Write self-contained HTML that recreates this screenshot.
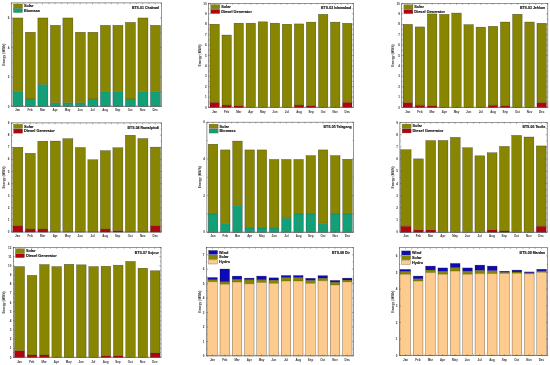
<!DOCTYPE html>
<html><head><meta charset="utf-8"><style>
html,body{margin:0;padding:0;background:#fff;}
body{width:550px;height:365px;overflow:hidden;}
svg{display:block;will-change:transform;}
text{font-family:"Liberation Sans",sans-serif;fill:#111;font-weight:bold;stroke:#111;stroke-width:0.18px;}
.yl{font-size:3.0px;text-anchor:end;stroke-width:0;fill:#333;}
.xl{font-size:2.95px;text-anchor:middle;stroke-width:0;fill:#333;}
.al{font-size:3.3px;text-anchor:middle;stroke-width:0;fill:#333;}
.tt{font-size:3.5px;text-anchor:end;stroke-width:0.12px;}
.lg{font-size:3.85px;stroke-width:0.12px;}
</style></head><body>
<svg width="550" height="365" viewBox="0 0 550 365">
<rect width="550" height="365" fill="#fff"/>
<rect x="12.85" y="91.66" width="10.01" height="14.74" fill="#13a078"/>
<rect x="12.85" y="17.96" width="10.01" height="73.7" fill="#888600"/>
<line x1="12.85" y1="91.66" x2="22.86" y2="91.66" stroke="#000" stroke-opacity="0.45" stroke-width="0.4"/>
<rect x="12.85" y="17.96" width="10.01" height="88.44" fill="none" stroke="#000" stroke-opacity="0.55" stroke-width="0.45"/>
<rect x="25.36" y="99.03" width="10.01" height="7.37" fill="#13a078"/>
<rect x="25.36" y="32.26" width="10.01" height="66.77" fill="#888600"/>
<line x1="25.36" y1="99.03" x2="35.37" y2="99.03" stroke="#000" stroke-opacity="0.45" stroke-width="0.4"/>
<rect x="25.36" y="32.26" width="10.01" height="74.14" fill="none" stroke="#000" stroke-opacity="0.55" stroke-width="0.45"/>
<rect x="37.87" y="84.29" width="10.01" height="22.11" fill="#13a078"/>
<rect x="37.87" y="17.96" width="10.01" height="66.33" fill="#888600"/>
<line x1="37.87" y1="84.29" x2="47.87" y2="84.29" stroke="#000" stroke-opacity="0.45" stroke-width="0.4"/>
<rect x="37.87" y="17.96" width="10.01" height="88.44" fill="none" stroke="#000" stroke-opacity="0.55" stroke-width="0.45"/>
<rect x="50.38" y="102.72" width="10.01" height="3.69" fill="#13a078"/>
<rect x="50.38" y="25.33" width="10.01" height="77.39" fill="#888600"/>
<line x1="50.38" y1="102.72" x2="60.38" y2="102.72" stroke="#000" stroke-opacity="0.45" stroke-width="0.4"/>
<rect x="50.38" y="25.33" width="10.01" height="81.07" fill="none" stroke="#000" stroke-opacity="0.55" stroke-width="0.45"/>
<rect x="62.88" y="102.72" width="10.01" height="3.69" fill="#13a078"/>
<rect x="62.88" y="17.96" width="10.01" height="84.75" fill="#888600"/>
<line x1="62.88" y1="102.72" x2="72.89" y2="102.72" stroke="#000" stroke-opacity="0.45" stroke-width="0.4"/>
<rect x="62.88" y="17.96" width="10.01" height="88.44" fill="none" stroke="#000" stroke-opacity="0.55" stroke-width="0.45"/>
<rect x="75.39" y="102.72" width="10.01" height="3.69" fill="#13a078"/>
<rect x="75.39" y="32.26" width="10.01" height="70.46" fill="#888600"/>
<line x1="75.39" y1="102.72" x2="85.4" y2="102.72" stroke="#000" stroke-opacity="0.45" stroke-width="0.4"/>
<rect x="75.39" y="32.26" width="10.01" height="74.14" fill="none" stroke="#000" stroke-opacity="0.55" stroke-width="0.45"/>
<rect x="87.9" y="99.03" width="10.01" height="7.37" fill="#13a078"/>
<rect x="87.9" y="32.26" width="10.01" height="66.77" fill="#888600"/>
<line x1="87.9" y1="99.03" x2="97.91" y2="99.03" stroke="#000" stroke-opacity="0.45" stroke-width="0.4"/>
<rect x="87.9" y="32.26" width="10.01" height="74.14" fill="none" stroke="#000" stroke-opacity="0.55" stroke-width="0.45"/>
<rect x="100.41" y="91.66" width="10.01" height="14.74" fill="#13a078"/>
<rect x="100.41" y="25.33" width="10.01" height="66.33" fill="#888600"/>
<line x1="100.41" y1="91.66" x2="110.42" y2="91.66" stroke="#000" stroke-opacity="0.45" stroke-width="0.4"/>
<rect x="100.41" y="25.33" width="10.01" height="81.07" fill="none" stroke="#000" stroke-opacity="0.55" stroke-width="0.45"/>
<rect x="112.92" y="91.66" width="10.01" height="14.74" fill="#13a078"/>
<rect x="112.92" y="25.33" width="10.01" height="66.33" fill="#888600"/>
<line x1="112.92" y1="91.66" x2="122.92" y2="91.66" stroke="#000" stroke-opacity="0.45" stroke-width="0.4"/>
<rect x="112.92" y="25.33" width="10.01" height="81.07" fill="none" stroke="#000" stroke-opacity="0.55" stroke-width="0.45"/>
<rect x="125.43" y="99.03" width="10.01" height="7.37" fill="#13a078"/>
<rect x="125.43" y="22.38" width="10.01" height="76.65" fill="#888600"/>
<line x1="125.43" y1="99.03" x2="135.43" y2="99.03" stroke="#000" stroke-opacity="0.45" stroke-width="0.4"/>
<rect x="125.43" y="22.38" width="10.01" height="84.02" fill="none" stroke="#000" stroke-opacity="0.55" stroke-width="0.45"/>
<rect x="137.93" y="91.66" width="10.01" height="14.74" fill="#13a078"/>
<rect x="137.93" y="17.96" width="10.01" height="73.7" fill="#888600"/>
<line x1="137.93" y1="91.66" x2="147.94" y2="91.66" stroke="#000" stroke-opacity="0.45" stroke-width="0.4"/>
<rect x="137.93" y="17.96" width="10.01" height="88.44" fill="none" stroke="#000" stroke-opacity="0.55" stroke-width="0.45"/>
<rect x="150.44" y="91.66" width="10.01" height="14.74" fill="#13a078"/>
<rect x="150.44" y="25.33" width="10.01" height="66.33" fill="#888600"/>
<line x1="150.44" y1="91.66" x2="160.45" y2="91.66" stroke="#000" stroke-opacity="0.45" stroke-width="0.4"/>
<rect x="150.44" y="25.33" width="10.01" height="81.07" fill="none" stroke="#000" stroke-opacity="0.55" stroke-width="0.45"/>
<rect x="11.3" y="2.9" width="150.1" height="103.5" fill="none" stroke="#505050" stroke-width="0.6"/>
<line x1="11.3" y1="106.4" x2="12.9" y2="106.4" stroke="#505050" stroke-width="0.45"/>
<line x1="161.4" y1="106.4" x2="159.8" y2="106.4" stroke="#505050" stroke-width="0.45"/>
<text x="9.4" y="107.5" class="yl">0</text>
<line x1="11.3" y1="91.66" x2="12.2" y2="91.66" stroke="#505050" stroke-width="0.45"/>
<line x1="161.4" y1="91.66" x2="160.5" y2="91.66" stroke="#505050" stroke-width="0.45"/>
<line x1="11.3" y1="76.92" x2="12.9" y2="76.92" stroke="#505050" stroke-width="0.45"/>
<line x1="161.4" y1="76.92" x2="159.8" y2="76.92" stroke="#505050" stroke-width="0.45"/>
<text x="9.4" y="78.02" class="yl">2</text>
<line x1="11.3" y1="62.18" x2="12.2" y2="62.18" stroke="#505050" stroke-width="0.45"/>
<line x1="161.4" y1="62.18" x2="160.5" y2="62.18" stroke="#505050" stroke-width="0.45"/>
<line x1="11.3" y1="47.44" x2="12.9" y2="47.44" stroke="#505050" stroke-width="0.45"/>
<line x1="161.4" y1="47.44" x2="159.8" y2="47.44" stroke="#505050" stroke-width="0.45"/>
<text x="9.4" y="48.54" class="yl">4</text>
<line x1="11.3" y1="32.7" x2="12.2" y2="32.7" stroke="#505050" stroke-width="0.45"/>
<line x1="161.4" y1="32.7" x2="160.5" y2="32.7" stroke="#505050" stroke-width="0.45"/>
<line x1="11.3" y1="17.96" x2="12.9" y2="17.96" stroke="#505050" stroke-width="0.45"/>
<line x1="161.4" y1="17.96" x2="159.8" y2="17.96" stroke="#505050" stroke-width="0.45"/>
<text x="9.4" y="19.06" class="yl">6</text>
<line x1="11.3" y1="3.22" x2="12.2" y2="3.22" stroke="#505050" stroke-width="0.45"/>
<line x1="161.4" y1="3.22" x2="160.5" y2="3.22" stroke="#505050" stroke-width="0.45"/>
<line x1="11.3" y1="2.9" x2="11.3" y2="4.1" stroke="#505050" stroke-width="0.45"/>
<line x1="11.3" y1="106.4" x2="11.3" y2="105.2" stroke="#505050" stroke-width="0.45"/>
<line x1="17.55" y1="2.9" x2="17.55" y2="4.3" stroke="#505050" stroke-width="0.45"/>
<line x1="17.55" y1="106.4" x2="17.55" y2="105" stroke="#505050" stroke-width="0.45"/>
<line x1="23.81" y1="2.9" x2="23.81" y2="4.1" stroke="#505050" stroke-width="0.45"/>
<line x1="23.81" y1="106.4" x2="23.81" y2="105.2" stroke="#505050" stroke-width="0.45"/>
<line x1="30.06" y1="2.9" x2="30.06" y2="4.3" stroke="#505050" stroke-width="0.45"/>
<line x1="30.06" y1="106.4" x2="30.06" y2="105" stroke="#505050" stroke-width="0.45"/>
<line x1="36.32" y1="2.9" x2="36.32" y2="4.1" stroke="#505050" stroke-width="0.45"/>
<line x1="36.32" y1="106.4" x2="36.32" y2="105.2" stroke="#505050" stroke-width="0.45"/>
<line x1="42.57" y1="2.9" x2="42.57" y2="4.3" stroke="#505050" stroke-width="0.45"/>
<line x1="42.57" y1="106.4" x2="42.57" y2="105" stroke="#505050" stroke-width="0.45"/>
<line x1="48.83" y1="2.9" x2="48.83" y2="4.1" stroke="#505050" stroke-width="0.45"/>
<line x1="48.83" y1="106.4" x2="48.83" y2="105.2" stroke="#505050" stroke-width="0.45"/>
<line x1="55.08" y1="2.9" x2="55.08" y2="4.3" stroke="#505050" stroke-width="0.45"/>
<line x1="55.08" y1="106.4" x2="55.08" y2="105" stroke="#505050" stroke-width="0.45"/>
<line x1="61.33" y1="2.9" x2="61.33" y2="4.1" stroke="#505050" stroke-width="0.45"/>
<line x1="61.33" y1="106.4" x2="61.33" y2="105.2" stroke="#505050" stroke-width="0.45"/>
<line x1="67.59" y1="2.9" x2="67.59" y2="4.3" stroke="#505050" stroke-width="0.45"/>
<line x1="67.59" y1="106.4" x2="67.59" y2="105" stroke="#505050" stroke-width="0.45"/>
<line x1="73.84" y1="2.9" x2="73.84" y2="4.1" stroke="#505050" stroke-width="0.45"/>
<line x1="73.84" y1="106.4" x2="73.84" y2="105.2" stroke="#505050" stroke-width="0.45"/>
<line x1="80.1" y1="2.9" x2="80.1" y2="4.3" stroke="#505050" stroke-width="0.45"/>
<line x1="80.1" y1="106.4" x2="80.1" y2="105" stroke="#505050" stroke-width="0.45"/>
<line x1="86.35" y1="2.9" x2="86.35" y2="4.1" stroke="#505050" stroke-width="0.45"/>
<line x1="86.35" y1="106.4" x2="86.35" y2="105.2" stroke="#505050" stroke-width="0.45"/>
<line x1="92.6" y1="2.9" x2="92.6" y2="4.3" stroke="#505050" stroke-width="0.45"/>
<line x1="92.6" y1="106.4" x2="92.6" y2="105" stroke="#505050" stroke-width="0.45"/>
<line x1="98.86" y1="2.9" x2="98.86" y2="4.1" stroke="#505050" stroke-width="0.45"/>
<line x1="98.86" y1="106.4" x2="98.86" y2="105.2" stroke="#505050" stroke-width="0.45"/>
<line x1="105.11" y1="2.9" x2="105.11" y2="4.3" stroke="#505050" stroke-width="0.45"/>
<line x1="105.11" y1="106.4" x2="105.11" y2="105" stroke="#505050" stroke-width="0.45"/>
<line x1="111.37" y1="2.9" x2="111.37" y2="4.1" stroke="#505050" stroke-width="0.45"/>
<line x1="111.37" y1="106.4" x2="111.37" y2="105.2" stroke="#505050" stroke-width="0.45"/>
<line x1="117.62" y1="2.9" x2="117.62" y2="4.3" stroke="#505050" stroke-width="0.45"/>
<line x1="117.62" y1="106.4" x2="117.62" y2="105" stroke="#505050" stroke-width="0.45"/>
<line x1="123.87" y1="2.9" x2="123.87" y2="4.1" stroke="#505050" stroke-width="0.45"/>
<line x1="123.87" y1="106.4" x2="123.87" y2="105.2" stroke="#505050" stroke-width="0.45"/>
<line x1="130.13" y1="2.9" x2="130.13" y2="4.3" stroke="#505050" stroke-width="0.45"/>
<line x1="130.13" y1="106.4" x2="130.13" y2="105" stroke="#505050" stroke-width="0.45"/>
<line x1="136.38" y1="2.9" x2="136.38" y2="4.1" stroke="#505050" stroke-width="0.45"/>
<line x1="136.38" y1="106.4" x2="136.38" y2="105.2" stroke="#505050" stroke-width="0.45"/>
<line x1="142.64" y1="2.9" x2="142.64" y2="4.3" stroke="#505050" stroke-width="0.45"/>
<line x1="142.64" y1="106.4" x2="142.64" y2="105" stroke="#505050" stroke-width="0.45"/>
<line x1="148.89" y1="2.9" x2="148.89" y2="4.1" stroke="#505050" stroke-width="0.45"/>
<line x1="148.89" y1="106.4" x2="148.89" y2="105.2" stroke="#505050" stroke-width="0.45"/>
<line x1="155.15" y1="2.9" x2="155.15" y2="4.3" stroke="#505050" stroke-width="0.45"/>
<line x1="155.15" y1="106.4" x2="155.15" y2="105" stroke="#505050" stroke-width="0.45"/>
<line x1="161.4" y1="2.9" x2="161.4" y2="4.1" stroke="#505050" stroke-width="0.45"/>
<line x1="161.4" y1="106.4" x2="161.4" y2="105.2" stroke="#505050" stroke-width="0.45"/>
<text x="17.55" y="111.4" class="xl">Jan</text>
<text x="30.06" y="111.4" class="xl">Feb</text>
<text x="42.57" y="111.4" class="xl">Mar</text>
<text x="55.08" y="111.4" class="xl">Apr</text>
<text x="67.59" y="111.4" class="xl">May</text>
<text x="80.1" y="111.4" class="xl">Jun</text>
<text x="92.6" y="111.4" class="xl">Jul</text>
<text x="105.11" y="111.4" class="xl">Aug</text>
<text x="117.62" y="111.4" class="xl">Sep</text>
<text x="130.13" y="111.4" class="xl">Oct</text>
<text x="142.64" y="111.4" class="xl">Nov</text>
<text x="155.15" y="111.4" class="xl">Dec</text>
<text transform="translate(5.45,54.65) rotate(-90)" class="al">Energy (MWh)</text>
<text x="159.2" y="8.65" class="tt">BTS-01 Chakwal</text>
<rect x="13.5" y="4" width="9" height="4.1" fill="#888600" stroke="#55502a" stroke-width="0.3"/>
<text x="23.9" y="7.3" class="lg">Solar</text>
<rect x="13.5" y="8.45" width="9" height="4.1" fill="#13a078" stroke="#55502a" stroke-width="0.3"/>
<text x="23.9" y="11.75" class="lg">Biomass</text>
<rect x="209.93" y="102.3" width="9.41" height="5.2" fill="#b0040e"/>
<rect x="209.93" y="24.22" width="9.41" height="78.08" fill="#888600"/>
<line x1="209.93" y1="102.3" x2="219.33" y2="102.3" stroke="#000" stroke-opacity="0.45" stroke-width="0.4"/>
<rect x="209.93" y="24.22" width="9.41" height="83.28" fill="none" stroke="#000" stroke-opacity="0.55" stroke-width="0.45"/>
<rect x="221.98" y="105.11" width="9.41" height="2.39" fill="#b0040e"/>
<rect x="221.98" y="35.05" width="9.41" height="70.06" fill="#888600"/>
<line x1="221.98" y1="105.11" x2="231.39" y2="105.11" stroke="#000" stroke-opacity="0.45" stroke-width="0.4"/>
<rect x="221.98" y="35.05" width="9.41" height="72.45" fill="none" stroke="#000" stroke-opacity="0.55" stroke-width="0.45"/>
<rect x="234.04" y="105.94" width="9.41" height="1.56" fill="#b0040e"/>
<rect x="234.04" y="23.18" width="9.41" height="82.76" fill="#888600"/>
<line x1="234.04" y1="105.94" x2="243.45" y2="105.94" stroke="#000" stroke-opacity="0.45" stroke-width="0.4"/>
<rect x="234.04" y="23.18" width="9.41" height="84.32" fill="none" stroke="#000" stroke-opacity="0.55" stroke-width="0.45"/>
<rect x="246.1" y="23.18" width="9.41" height="84.32" fill="#888600"/>
<rect x="246.1" y="23.18" width="9.41" height="84.32" fill="none" stroke="#000" stroke-opacity="0.55" stroke-width="0.45"/>
<rect x="258.16" y="21.83" width="9.41" height="85.67" fill="#888600"/>
<rect x="258.16" y="21.83" width="9.41" height="85.67" fill="none" stroke="#000" stroke-opacity="0.55" stroke-width="0.45"/>
<rect x="270.22" y="23.18" width="9.41" height="84.32" fill="#888600"/>
<rect x="270.22" y="23.18" width="9.41" height="84.32" fill="none" stroke="#000" stroke-opacity="0.55" stroke-width="0.45"/>
<rect x="282.28" y="24.22" width="9.41" height="83.28" fill="#888600"/>
<rect x="282.28" y="24.22" width="9.41" height="83.28" fill="none" stroke="#000" stroke-opacity="0.55" stroke-width="0.45"/>
<rect x="294.33" y="105.11" width="9.41" height="2.39" fill="#b0040e"/>
<rect x="294.33" y="23.91" width="9.41" height="81.2" fill="#888600"/>
<line x1="294.33" y1="105.11" x2="303.74" y2="105.11" stroke="#000" stroke-opacity="0.45" stroke-width="0.4"/>
<rect x="294.33" y="23.91" width="9.41" height="83.59" fill="none" stroke="#000" stroke-opacity="0.55" stroke-width="0.45"/>
<rect x="306.39" y="105.94" width="9.41" height="1.56" fill="#b0040e"/>
<rect x="306.39" y="22.14" width="9.41" height="83.8" fill="#888600"/>
<line x1="306.39" y1="105.94" x2="315.8" y2="105.94" stroke="#000" stroke-opacity="0.45" stroke-width="0.4"/>
<rect x="306.39" y="22.14" width="9.41" height="85.36" fill="none" stroke="#000" stroke-opacity="0.55" stroke-width="0.45"/>
<rect x="318.45" y="14.33" width="9.41" height="93.17" fill="#888600"/>
<rect x="318.45" y="14.33" width="9.41" height="93.17" fill="none" stroke="#000" stroke-opacity="0.55" stroke-width="0.45"/>
<rect x="330.51" y="22.14" width="9.41" height="85.36" fill="#888600"/>
<rect x="330.51" y="22.14" width="9.41" height="85.36" fill="none" stroke="#000" stroke-opacity="0.55" stroke-width="0.45"/>
<rect x="342.57" y="102.3" width="9.41" height="5.2" fill="#b0040e"/>
<rect x="342.57" y="23.28" width="9.41" height="79.01" fill="#888600"/>
<line x1="342.57" y1="102.3" x2="351.97" y2="102.3" stroke="#000" stroke-opacity="0.45" stroke-width="0.4"/>
<rect x="342.57" y="23.28" width="9.41" height="84.22" fill="none" stroke="#000" stroke-opacity="0.55" stroke-width="0.45"/>
<rect x="208.6" y="3.4" width="144.7" height="104.1" fill="none" stroke="#505050" stroke-width="0.6"/>
<line x1="208.6" y1="107.5" x2="210.2" y2="107.5" stroke="#505050" stroke-width="0.45"/>
<line x1="353.3" y1="107.5" x2="351.7" y2="107.5" stroke="#505050" stroke-width="0.45"/>
<text x="206.7" y="108.6" class="yl">0</text>
<line x1="208.6" y1="102.3" x2="209.5" y2="102.3" stroke="#505050" stroke-width="0.45"/>
<line x1="353.3" y1="102.3" x2="352.4" y2="102.3" stroke="#505050" stroke-width="0.45"/>
<line x1="208.6" y1="97.09" x2="210.2" y2="97.09" stroke="#505050" stroke-width="0.45"/>
<line x1="353.3" y1="97.09" x2="351.7" y2="97.09" stroke="#505050" stroke-width="0.45"/>
<text x="206.7" y="98.19" class="yl">1</text>
<line x1="208.6" y1="91.89" x2="209.5" y2="91.89" stroke="#505050" stroke-width="0.45"/>
<line x1="353.3" y1="91.89" x2="352.4" y2="91.89" stroke="#505050" stroke-width="0.45"/>
<line x1="208.6" y1="86.68" x2="210.2" y2="86.68" stroke="#505050" stroke-width="0.45"/>
<line x1="353.3" y1="86.68" x2="351.7" y2="86.68" stroke="#505050" stroke-width="0.45"/>
<text x="206.7" y="87.78" class="yl">2</text>
<line x1="208.6" y1="81.47" x2="209.5" y2="81.47" stroke="#505050" stroke-width="0.45"/>
<line x1="353.3" y1="81.47" x2="352.4" y2="81.47" stroke="#505050" stroke-width="0.45"/>
<line x1="208.6" y1="76.27" x2="210.2" y2="76.27" stroke="#505050" stroke-width="0.45"/>
<line x1="353.3" y1="76.27" x2="351.7" y2="76.27" stroke="#505050" stroke-width="0.45"/>
<text x="206.7" y="77.37" class="yl">3</text>
<line x1="208.6" y1="71.06" x2="209.5" y2="71.06" stroke="#505050" stroke-width="0.45"/>
<line x1="353.3" y1="71.06" x2="352.4" y2="71.06" stroke="#505050" stroke-width="0.45"/>
<line x1="208.6" y1="65.86" x2="210.2" y2="65.86" stroke="#505050" stroke-width="0.45"/>
<line x1="353.3" y1="65.86" x2="351.7" y2="65.86" stroke="#505050" stroke-width="0.45"/>
<text x="206.7" y="66.96" class="yl">4</text>
<line x1="208.6" y1="60.66" x2="209.5" y2="60.66" stroke="#505050" stroke-width="0.45"/>
<line x1="353.3" y1="60.66" x2="352.4" y2="60.66" stroke="#505050" stroke-width="0.45"/>
<line x1="208.6" y1="55.45" x2="210.2" y2="55.45" stroke="#505050" stroke-width="0.45"/>
<line x1="353.3" y1="55.45" x2="351.7" y2="55.45" stroke="#505050" stroke-width="0.45"/>
<text x="206.7" y="56.55" class="yl">5</text>
<line x1="208.6" y1="50.24" x2="209.5" y2="50.24" stroke="#505050" stroke-width="0.45"/>
<line x1="353.3" y1="50.24" x2="352.4" y2="50.24" stroke="#505050" stroke-width="0.45"/>
<line x1="208.6" y1="45.04" x2="210.2" y2="45.04" stroke="#505050" stroke-width="0.45"/>
<line x1="353.3" y1="45.04" x2="351.7" y2="45.04" stroke="#505050" stroke-width="0.45"/>
<text x="206.7" y="46.14" class="yl">6</text>
<line x1="208.6" y1="39.83" x2="209.5" y2="39.83" stroke="#505050" stroke-width="0.45"/>
<line x1="353.3" y1="39.83" x2="352.4" y2="39.83" stroke="#505050" stroke-width="0.45"/>
<line x1="208.6" y1="34.63" x2="210.2" y2="34.63" stroke="#505050" stroke-width="0.45"/>
<line x1="353.3" y1="34.63" x2="351.7" y2="34.63" stroke="#505050" stroke-width="0.45"/>
<text x="206.7" y="35.73" class="yl">7</text>
<line x1="208.6" y1="29.42" x2="209.5" y2="29.42" stroke="#505050" stroke-width="0.45"/>
<line x1="353.3" y1="29.42" x2="352.4" y2="29.42" stroke="#505050" stroke-width="0.45"/>
<line x1="208.6" y1="24.22" x2="210.2" y2="24.22" stroke="#505050" stroke-width="0.45"/>
<line x1="353.3" y1="24.22" x2="351.7" y2="24.22" stroke="#505050" stroke-width="0.45"/>
<text x="206.7" y="25.32" class="yl">8</text>
<line x1="208.6" y1="19.02" x2="209.5" y2="19.02" stroke="#505050" stroke-width="0.45"/>
<line x1="353.3" y1="19.02" x2="352.4" y2="19.02" stroke="#505050" stroke-width="0.45"/>
<line x1="208.6" y1="13.81" x2="210.2" y2="13.81" stroke="#505050" stroke-width="0.45"/>
<line x1="353.3" y1="13.81" x2="351.7" y2="13.81" stroke="#505050" stroke-width="0.45"/>
<text x="206.7" y="14.91" class="yl">9</text>
<line x1="208.6" y1="8.61" x2="209.5" y2="8.61" stroke="#505050" stroke-width="0.45"/>
<line x1="353.3" y1="8.61" x2="352.4" y2="8.61" stroke="#505050" stroke-width="0.45"/>
<line x1="208.6" y1="3.4" x2="210.2" y2="3.4" stroke="#505050" stroke-width="0.45"/>
<line x1="353.3" y1="3.4" x2="351.7" y2="3.4" stroke="#505050" stroke-width="0.45"/>
<text x="206.7" y="4.5" class="yl">10</text>
<line x1="208.6" y1="3.4" x2="208.6" y2="4.6" stroke="#505050" stroke-width="0.45"/>
<line x1="208.6" y1="107.5" x2="208.6" y2="106.3" stroke="#505050" stroke-width="0.45"/>
<line x1="214.63" y1="3.4" x2="214.63" y2="4.8" stroke="#505050" stroke-width="0.45"/>
<line x1="214.63" y1="107.5" x2="214.63" y2="106.1" stroke="#505050" stroke-width="0.45"/>
<line x1="220.66" y1="3.4" x2="220.66" y2="4.6" stroke="#505050" stroke-width="0.45"/>
<line x1="220.66" y1="107.5" x2="220.66" y2="106.3" stroke="#505050" stroke-width="0.45"/>
<line x1="226.69" y1="3.4" x2="226.69" y2="4.8" stroke="#505050" stroke-width="0.45"/>
<line x1="226.69" y1="107.5" x2="226.69" y2="106.1" stroke="#505050" stroke-width="0.45"/>
<line x1="232.72" y1="3.4" x2="232.72" y2="4.6" stroke="#505050" stroke-width="0.45"/>
<line x1="232.72" y1="107.5" x2="232.72" y2="106.3" stroke="#505050" stroke-width="0.45"/>
<line x1="238.75" y1="3.4" x2="238.75" y2="4.8" stroke="#505050" stroke-width="0.45"/>
<line x1="238.75" y1="107.5" x2="238.75" y2="106.1" stroke="#505050" stroke-width="0.45"/>
<line x1="244.78" y1="3.4" x2="244.78" y2="4.6" stroke="#505050" stroke-width="0.45"/>
<line x1="244.78" y1="107.5" x2="244.78" y2="106.3" stroke="#505050" stroke-width="0.45"/>
<line x1="250.8" y1="3.4" x2="250.8" y2="4.8" stroke="#505050" stroke-width="0.45"/>
<line x1="250.8" y1="107.5" x2="250.8" y2="106.1" stroke="#505050" stroke-width="0.45"/>
<line x1="256.83" y1="3.4" x2="256.83" y2="4.6" stroke="#505050" stroke-width="0.45"/>
<line x1="256.83" y1="107.5" x2="256.83" y2="106.3" stroke="#505050" stroke-width="0.45"/>
<line x1="262.86" y1="3.4" x2="262.86" y2="4.8" stroke="#505050" stroke-width="0.45"/>
<line x1="262.86" y1="107.5" x2="262.86" y2="106.1" stroke="#505050" stroke-width="0.45"/>
<line x1="268.89" y1="3.4" x2="268.89" y2="4.6" stroke="#505050" stroke-width="0.45"/>
<line x1="268.89" y1="107.5" x2="268.89" y2="106.3" stroke="#505050" stroke-width="0.45"/>
<line x1="274.92" y1="3.4" x2="274.92" y2="4.8" stroke="#505050" stroke-width="0.45"/>
<line x1="274.92" y1="107.5" x2="274.92" y2="106.1" stroke="#505050" stroke-width="0.45"/>
<line x1="280.95" y1="3.4" x2="280.95" y2="4.6" stroke="#505050" stroke-width="0.45"/>
<line x1="280.95" y1="107.5" x2="280.95" y2="106.3" stroke="#505050" stroke-width="0.45"/>
<line x1="286.98" y1="3.4" x2="286.98" y2="4.8" stroke="#505050" stroke-width="0.45"/>
<line x1="286.98" y1="107.5" x2="286.98" y2="106.1" stroke="#505050" stroke-width="0.45"/>
<line x1="293.01" y1="3.4" x2="293.01" y2="4.6" stroke="#505050" stroke-width="0.45"/>
<line x1="293.01" y1="107.5" x2="293.01" y2="106.3" stroke="#505050" stroke-width="0.45"/>
<line x1="299.04" y1="3.4" x2="299.04" y2="4.8" stroke="#505050" stroke-width="0.45"/>
<line x1="299.04" y1="107.5" x2="299.04" y2="106.1" stroke="#505050" stroke-width="0.45"/>
<line x1="305.07" y1="3.4" x2="305.07" y2="4.6" stroke="#505050" stroke-width="0.45"/>
<line x1="305.07" y1="107.5" x2="305.07" y2="106.3" stroke="#505050" stroke-width="0.45"/>
<line x1="311.1" y1="3.4" x2="311.1" y2="4.8" stroke="#505050" stroke-width="0.45"/>
<line x1="311.1" y1="107.5" x2="311.1" y2="106.1" stroke="#505050" stroke-width="0.45"/>
<line x1="317.12" y1="3.4" x2="317.12" y2="4.6" stroke="#505050" stroke-width="0.45"/>
<line x1="317.12" y1="107.5" x2="317.12" y2="106.3" stroke="#505050" stroke-width="0.45"/>
<line x1="323.15" y1="3.4" x2="323.15" y2="4.8" stroke="#505050" stroke-width="0.45"/>
<line x1="323.15" y1="107.5" x2="323.15" y2="106.1" stroke="#505050" stroke-width="0.45"/>
<line x1="329.18" y1="3.4" x2="329.18" y2="4.6" stroke="#505050" stroke-width="0.45"/>
<line x1="329.18" y1="107.5" x2="329.18" y2="106.3" stroke="#505050" stroke-width="0.45"/>
<line x1="335.21" y1="3.4" x2="335.21" y2="4.8" stroke="#505050" stroke-width="0.45"/>
<line x1="335.21" y1="107.5" x2="335.21" y2="106.1" stroke="#505050" stroke-width="0.45"/>
<line x1="341.24" y1="3.4" x2="341.24" y2="4.6" stroke="#505050" stroke-width="0.45"/>
<line x1="341.24" y1="107.5" x2="341.24" y2="106.3" stroke="#505050" stroke-width="0.45"/>
<line x1="347.27" y1="3.4" x2="347.27" y2="4.8" stroke="#505050" stroke-width="0.45"/>
<line x1="347.27" y1="107.5" x2="347.27" y2="106.1" stroke="#505050" stroke-width="0.45"/>
<line x1="353.3" y1="3.4" x2="353.3" y2="4.6" stroke="#505050" stroke-width="0.45"/>
<line x1="353.3" y1="107.5" x2="353.3" y2="106.3" stroke="#505050" stroke-width="0.45"/>
<text x="214.63" y="112.5" class="xl">Jan</text>
<text x="226.69" y="112.5" class="xl">Feb</text>
<text x="238.75" y="112.5" class="xl">Mar</text>
<text x="250.8" y="112.5" class="xl">Apr</text>
<text x="262.86" y="112.5" class="xl">May</text>
<text x="274.92" y="112.5" class="xl">Jun</text>
<text x="286.98" y="112.5" class="xl">Jul</text>
<text x="299.04" y="112.5" class="xl">Aug</text>
<text x="311.1" y="112.5" class="xl">Sep</text>
<text x="323.15" y="112.5" class="xl">Oct</text>
<text x="335.21" y="112.5" class="xl">Nov</text>
<text x="347.27" y="112.5" class="xl">Dec</text>
<text transform="translate(201.05,55.45) rotate(-90)" class="al">Energy (MWh)</text>
<text x="351.2" y="9.2" class="tt">BTS-02 Islamabad</text>
<rect x="210.8" y="4.7" width="9" height="4.1" fill="#888600" stroke="#55502a" stroke-width="0.3"/>
<text x="221.2" y="8" class="lg">Solar</text>
<rect x="210.8" y="9.45" width="9" height="4.1" fill="#b0040e" stroke="#55502a" stroke-width="0.3"/>
<text x="221.2" y="12.75" class="lg">Diesel Generator</text>
<rect x="403.04" y="102.39" width="9.5" height="5.2" fill="#b0040e"/>
<rect x="403.04" y="24.32" width="9.5" height="78.08" fill="#888600"/>
<line x1="403.04" y1="102.39" x2="412.54" y2="102.39" stroke="#000" stroke-opacity="0.45" stroke-width="0.4"/>
<rect x="403.04" y="24.32" width="9.5" height="83.28" fill="none" stroke="#000" stroke-opacity="0.55" stroke-width="0.45"/>
<rect x="415.21" y="105.21" width="9.5" height="2.39" fill="#b0040e"/>
<rect x="415.21" y="26.92" width="9.5" height="78.28" fill="#888600"/>
<line x1="415.21" y1="105.21" x2="424.71" y2="105.21" stroke="#000" stroke-opacity="0.45" stroke-width="0.4"/>
<rect x="415.21" y="26.92" width="9.5" height="80.68" fill="none" stroke="#000" stroke-opacity="0.55" stroke-width="0.45"/>
<rect x="427.39" y="106.04" width="9.5" height="1.56" fill="#b0040e"/>
<rect x="427.39" y="13.91" width="9.5" height="92.13" fill="#888600"/>
<line x1="427.39" y1="106.04" x2="436.89" y2="106.04" stroke="#000" stroke-opacity="0.45" stroke-width="0.4"/>
<rect x="427.39" y="13.91" width="9.5" height="93.69" fill="none" stroke="#000" stroke-opacity="0.55" stroke-width="0.45"/>
<rect x="439.56" y="14.33" width="9.5" height="93.27" fill="#888600"/>
<rect x="439.56" y="14.33" width="9.5" height="93.27" fill="none" stroke="#000" stroke-opacity="0.55" stroke-width="0.45"/>
<rect x="451.74" y="13.08" width="9.5" height="94.52" fill="#888600"/>
<rect x="451.74" y="13.08" width="9.5" height="94.52" fill="none" stroke="#000" stroke-opacity="0.55" stroke-width="0.45"/>
<rect x="463.91" y="24.63" width="9.5" height="82.97" fill="#888600"/>
<rect x="463.91" y="24.63" width="9.5" height="82.97" fill="none" stroke="#000" stroke-opacity="0.55" stroke-width="0.45"/>
<rect x="476.09" y="27.13" width="9.5" height="80.47" fill="#888600"/>
<rect x="476.09" y="27.13" width="9.5" height="80.47" fill="none" stroke="#000" stroke-opacity="0.55" stroke-width="0.45"/>
<rect x="488.26" y="105.21" width="9.5" height="2.39" fill="#b0040e"/>
<rect x="488.26" y="26.3" width="9.5" height="78.91" fill="#888600"/>
<line x1="488.26" y1="105.21" x2="497.76" y2="105.21" stroke="#000" stroke-opacity="0.45" stroke-width="0.4"/>
<rect x="488.26" y="26.3" width="9.5" height="81.3" fill="none" stroke="#000" stroke-opacity="0.55" stroke-width="0.45"/>
<rect x="500.44" y="106.04" width="9.5" height="1.56" fill="#b0040e"/>
<rect x="500.44" y="22.03" width="9.5" height="84.01" fill="#888600"/>
<line x1="500.44" y1="106.04" x2="509.94" y2="106.04" stroke="#000" stroke-opacity="0.45" stroke-width="0.4"/>
<rect x="500.44" y="22.03" width="9.5" height="85.57" fill="none" stroke="#000" stroke-opacity="0.55" stroke-width="0.45"/>
<rect x="512.61" y="14.22" width="9.5" height="93.38" fill="#888600"/>
<rect x="512.61" y="14.22" width="9.5" height="93.38" fill="none" stroke="#000" stroke-opacity="0.55" stroke-width="0.45"/>
<rect x="524.79" y="22.03" width="9.5" height="85.57" fill="#888600"/>
<rect x="524.79" y="22.03" width="9.5" height="85.57" fill="none" stroke="#000" stroke-opacity="0.55" stroke-width="0.45"/>
<rect x="536.96" y="102.39" width="9.5" height="5.2" fill="#b0040e"/>
<rect x="536.96" y="23.28" width="9.5" height="79.12" fill="#888600"/>
<line x1="536.96" y1="102.39" x2="546.46" y2="102.39" stroke="#000" stroke-opacity="0.45" stroke-width="0.4"/>
<rect x="536.96" y="23.28" width="9.5" height="84.32" fill="none" stroke="#000" stroke-opacity="0.55" stroke-width="0.45"/>
<rect x="401.7" y="3.5" width="146.1" height="104.1" fill="none" stroke="#505050" stroke-width="0.6"/>
<line x1="401.7" y1="107.6" x2="403.3" y2="107.6" stroke="#505050" stroke-width="0.45"/>
<line x1="547.8" y1="107.6" x2="546.2" y2="107.6" stroke="#505050" stroke-width="0.45"/>
<text x="399.8" y="108.7" class="yl">0</text>
<line x1="401.7" y1="102.39" x2="402.6" y2="102.39" stroke="#505050" stroke-width="0.45"/>
<line x1="547.8" y1="102.39" x2="546.9" y2="102.39" stroke="#505050" stroke-width="0.45"/>
<line x1="401.7" y1="97.19" x2="403.3" y2="97.19" stroke="#505050" stroke-width="0.45"/>
<line x1="547.8" y1="97.19" x2="546.2" y2="97.19" stroke="#505050" stroke-width="0.45"/>
<text x="399.8" y="98.29" class="yl">1</text>
<line x1="401.7" y1="91.98" x2="402.6" y2="91.98" stroke="#505050" stroke-width="0.45"/>
<line x1="547.8" y1="91.98" x2="546.9" y2="91.98" stroke="#505050" stroke-width="0.45"/>
<line x1="401.7" y1="86.78" x2="403.3" y2="86.78" stroke="#505050" stroke-width="0.45"/>
<line x1="547.8" y1="86.78" x2="546.2" y2="86.78" stroke="#505050" stroke-width="0.45"/>
<text x="399.8" y="87.88" class="yl">2</text>
<line x1="401.7" y1="81.57" x2="402.6" y2="81.57" stroke="#505050" stroke-width="0.45"/>
<line x1="547.8" y1="81.57" x2="546.9" y2="81.57" stroke="#505050" stroke-width="0.45"/>
<line x1="401.7" y1="76.37" x2="403.3" y2="76.37" stroke="#505050" stroke-width="0.45"/>
<line x1="547.8" y1="76.37" x2="546.2" y2="76.37" stroke="#505050" stroke-width="0.45"/>
<text x="399.8" y="77.47" class="yl">3</text>
<line x1="401.7" y1="71.16" x2="402.6" y2="71.16" stroke="#505050" stroke-width="0.45"/>
<line x1="547.8" y1="71.16" x2="546.9" y2="71.16" stroke="#505050" stroke-width="0.45"/>
<line x1="401.7" y1="65.96" x2="403.3" y2="65.96" stroke="#505050" stroke-width="0.45"/>
<line x1="547.8" y1="65.96" x2="546.2" y2="65.96" stroke="#505050" stroke-width="0.45"/>
<text x="399.8" y="67.06" class="yl">4</text>
<line x1="401.7" y1="60.75" x2="402.6" y2="60.75" stroke="#505050" stroke-width="0.45"/>
<line x1="547.8" y1="60.75" x2="546.9" y2="60.75" stroke="#505050" stroke-width="0.45"/>
<line x1="401.7" y1="55.55" x2="403.3" y2="55.55" stroke="#505050" stroke-width="0.45"/>
<line x1="547.8" y1="55.55" x2="546.2" y2="55.55" stroke="#505050" stroke-width="0.45"/>
<text x="399.8" y="56.65" class="yl">5</text>
<line x1="401.7" y1="50.34" x2="402.6" y2="50.34" stroke="#505050" stroke-width="0.45"/>
<line x1="547.8" y1="50.34" x2="546.9" y2="50.34" stroke="#505050" stroke-width="0.45"/>
<line x1="401.7" y1="45.14" x2="403.3" y2="45.14" stroke="#505050" stroke-width="0.45"/>
<line x1="547.8" y1="45.14" x2="546.2" y2="45.14" stroke="#505050" stroke-width="0.45"/>
<text x="399.8" y="46.24" class="yl">6</text>
<line x1="401.7" y1="39.93" x2="402.6" y2="39.93" stroke="#505050" stroke-width="0.45"/>
<line x1="547.8" y1="39.93" x2="546.9" y2="39.93" stroke="#505050" stroke-width="0.45"/>
<line x1="401.7" y1="34.73" x2="403.3" y2="34.73" stroke="#505050" stroke-width="0.45"/>
<line x1="547.8" y1="34.73" x2="546.2" y2="34.73" stroke="#505050" stroke-width="0.45"/>
<text x="399.8" y="35.83" class="yl">7</text>
<line x1="401.7" y1="29.52" x2="402.6" y2="29.52" stroke="#505050" stroke-width="0.45"/>
<line x1="547.8" y1="29.52" x2="546.9" y2="29.52" stroke="#505050" stroke-width="0.45"/>
<line x1="401.7" y1="24.32" x2="403.3" y2="24.32" stroke="#505050" stroke-width="0.45"/>
<line x1="547.8" y1="24.32" x2="546.2" y2="24.32" stroke="#505050" stroke-width="0.45"/>
<text x="399.8" y="25.42" class="yl">8</text>
<line x1="401.7" y1="19.11" x2="402.6" y2="19.11" stroke="#505050" stroke-width="0.45"/>
<line x1="547.8" y1="19.11" x2="546.9" y2="19.11" stroke="#505050" stroke-width="0.45"/>
<line x1="401.7" y1="13.91" x2="403.3" y2="13.91" stroke="#505050" stroke-width="0.45"/>
<line x1="547.8" y1="13.91" x2="546.2" y2="13.91" stroke="#505050" stroke-width="0.45"/>
<text x="399.8" y="15.01" class="yl">9</text>
<line x1="401.7" y1="8.7" x2="402.6" y2="8.7" stroke="#505050" stroke-width="0.45"/>
<line x1="547.8" y1="8.7" x2="546.9" y2="8.7" stroke="#505050" stroke-width="0.45"/>
<line x1="401.7" y1="3.5" x2="403.3" y2="3.5" stroke="#505050" stroke-width="0.45"/>
<line x1="547.8" y1="3.5" x2="546.2" y2="3.5" stroke="#505050" stroke-width="0.45"/>
<text x="399.8" y="4.6" class="yl">10</text>
<line x1="401.7" y1="3.5" x2="401.7" y2="4.7" stroke="#505050" stroke-width="0.45"/>
<line x1="401.7" y1="107.6" x2="401.7" y2="106.4" stroke="#505050" stroke-width="0.45"/>
<line x1="407.79" y1="3.5" x2="407.79" y2="4.9" stroke="#505050" stroke-width="0.45"/>
<line x1="407.79" y1="107.6" x2="407.79" y2="106.2" stroke="#505050" stroke-width="0.45"/>
<line x1="413.88" y1="3.5" x2="413.88" y2="4.7" stroke="#505050" stroke-width="0.45"/>
<line x1="413.88" y1="107.6" x2="413.88" y2="106.4" stroke="#505050" stroke-width="0.45"/>
<line x1="419.96" y1="3.5" x2="419.96" y2="4.9" stroke="#505050" stroke-width="0.45"/>
<line x1="419.96" y1="107.6" x2="419.96" y2="106.2" stroke="#505050" stroke-width="0.45"/>
<line x1="426.05" y1="3.5" x2="426.05" y2="4.7" stroke="#505050" stroke-width="0.45"/>
<line x1="426.05" y1="107.6" x2="426.05" y2="106.4" stroke="#505050" stroke-width="0.45"/>
<line x1="432.14" y1="3.5" x2="432.14" y2="4.9" stroke="#505050" stroke-width="0.45"/>
<line x1="432.14" y1="107.6" x2="432.14" y2="106.2" stroke="#505050" stroke-width="0.45"/>
<line x1="438.22" y1="3.5" x2="438.22" y2="4.7" stroke="#505050" stroke-width="0.45"/>
<line x1="438.22" y1="107.6" x2="438.22" y2="106.4" stroke="#505050" stroke-width="0.45"/>
<line x1="444.31" y1="3.5" x2="444.31" y2="4.9" stroke="#505050" stroke-width="0.45"/>
<line x1="444.31" y1="107.6" x2="444.31" y2="106.2" stroke="#505050" stroke-width="0.45"/>
<line x1="450.4" y1="3.5" x2="450.4" y2="4.7" stroke="#505050" stroke-width="0.45"/>
<line x1="450.4" y1="107.6" x2="450.4" y2="106.4" stroke="#505050" stroke-width="0.45"/>
<line x1="456.49" y1="3.5" x2="456.49" y2="4.9" stroke="#505050" stroke-width="0.45"/>
<line x1="456.49" y1="107.6" x2="456.49" y2="106.2" stroke="#505050" stroke-width="0.45"/>
<line x1="462.57" y1="3.5" x2="462.57" y2="4.7" stroke="#505050" stroke-width="0.45"/>
<line x1="462.57" y1="107.6" x2="462.57" y2="106.4" stroke="#505050" stroke-width="0.45"/>
<line x1="468.66" y1="3.5" x2="468.66" y2="4.9" stroke="#505050" stroke-width="0.45"/>
<line x1="468.66" y1="107.6" x2="468.66" y2="106.2" stroke="#505050" stroke-width="0.45"/>
<line x1="474.75" y1="3.5" x2="474.75" y2="4.7" stroke="#505050" stroke-width="0.45"/>
<line x1="474.75" y1="107.6" x2="474.75" y2="106.4" stroke="#505050" stroke-width="0.45"/>
<line x1="480.84" y1="3.5" x2="480.84" y2="4.9" stroke="#505050" stroke-width="0.45"/>
<line x1="480.84" y1="107.6" x2="480.84" y2="106.2" stroke="#505050" stroke-width="0.45"/>
<line x1="486.92" y1="3.5" x2="486.92" y2="4.7" stroke="#505050" stroke-width="0.45"/>
<line x1="486.92" y1="107.6" x2="486.92" y2="106.4" stroke="#505050" stroke-width="0.45"/>
<line x1="493.01" y1="3.5" x2="493.01" y2="4.9" stroke="#505050" stroke-width="0.45"/>
<line x1="493.01" y1="107.6" x2="493.01" y2="106.2" stroke="#505050" stroke-width="0.45"/>
<line x1="499.1" y1="3.5" x2="499.1" y2="4.7" stroke="#505050" stroke-width="0.45"/>
<line x1="499.1" y1="107.6" x2="499.1" y2="106.4" stroke="#505050" stroke-width="0.45"/>
<line x1="505.19" y1="3.5" x2="505.19" y2="4.9" stroke="#505050" stroke-width="0.45"/>
<line x1="505.19" y1="107.6" x2="505.19" y2="106.2" stroke="#505050" stroke-width="0.45"/>
<line x1="511.27" y1="3.5" x2="511.27" y2="4.7" stroke="#505050" stroke-width="0.45"/>
<line x1="511.27" y1="107.6" x2="511.27" y2="106.4" stroke="#505050" stroke-width="0.45"/>
<line x1="517.36" y1="3.5" x2="517.36" y2="4.9" stroke="#505050" stroke-width="0.45"/>
<line x1="517.36" y1="107.6" x2="517.36" y2="106.2" stroke="#505050" stroke-width="0.45"/>
<line x1="523.45" y1="3.5" x2="523.45" y2="4.7" stroke="#505050" stroke-width="0.45"/>
<line x1="523.45" y1="107.6" x2="523.45" y2="106.4" stroke="#505050" stroke-width="0.45"/>
<line x1="529.54" y1="3.5" x2="529.54" y2="4.9" stroke="#505050" stroke-width="0.45"/>
<line x1="529.54" y1="107.6" x2="529.54" y2="106.2" stroke="#505050" stroke-width="0.45"/>
<line x1="535.62" y1="3.5" x2="535.62" y2="4.7" stroke="#505050" stroke-width="0.45"/>
<line x1="535.62" y1="107.6" x2="535.62" y2="106.4" stroke="#505050" stroke-width="0.45"/>
<line x1="541.71" y1="3.5" x2="541.71" y2="4.9" stroke="#505050" stroke-width="0.45"/>
<line x1="541.71" y1="107.6" x2="541.71" y2="106.2" stroke="#505050" stroke-width="0.45"/>
<line x1="547.8" y1="3.5" x2="547.8" y2="4.7" stroke="#505050" stroke-width="0.45"/>
<line x1="547.8" y1="107.6" x2="547.8" y2="106.4" stroke="#505050" stroke-width="0.45"/>
<text x="407.79" y="112.6" class="xl">Jan</text>
<text x="419.96" y="112.6" class="xl">Feb</text>
<text x="432.14" y="112.6" class="xl">Mar</text>
<text x="444.31" y="112.6" class="xl">Apr</text>
<text x="456.49" y="112.6" class="xl">May</text>
<text x="468.66" y="112.6" class="xl">Jun</text>
<text x="480.84" y="112.6" class="xl">Jul</text>
<text x="493.01" y="112.6" class="xl">Aug</text>
<text x="505.19" y="112.6" class="xl">Sep</text>
<text x="517.36" y="112.6" class="xl">Oct</text>
<text x="529.54" y="112.6" class="xl">Nov</text>
<text x="541.71" y="112.6" class="xl">Dec</text>
<text transform="translate(393.65,55.55) rotate(-90)" class="al">Energy (MWh)</text>
<text x="545.2" y="9.2" class="tt">BTS-03 Jehlum</text>
<rect x="403.9" y="4.8" width="9" height="4.1" fill="#888600" stroke="#55502a" stroke-width="0.3"/>
<text x="414.3" y="8.1" class="lg">Solar</text>
<rect x="403.9" y="9.55" width="9" height="4.1" fill="#b0040e" stroke="#55502a" stroke-width="0.3"/>
<text x="414.3" y="12.85" class="lg">Diesel Generator</text>
<rect x="12.8" y="226.04" width="10.01" height="6.06" fill="#b0040e"/>
<rect x="12.8" y="147.26" width="10.01" height="78.78" fill="#888600"/>
<line x1="12.8" y1="226.04" x2="22.81" y2="226.04" stroke="#000" stroke-opacity="0.45" stroke-width="0.4"/>
<rect x="12.8" y="147.26" width="10.01" height="84.84" fill="none" stroke="#000" stroke-opacity="0.55" stroke-width="0.45"/>
<rect x="25.31" y="229.07" width="10.01" height="3.03" fill="#b0040e"/>
<rect x="25.31" y="153.32" width="10.01" height="75.75" fill="#888600"/>
<line x1="25.31" y1="229.07" x2="35.32" y2="229.07" stroke="#000" stroke-opacity="0.45" stroke-width="0.4"/>
<rect x="25.31" y="153.32" width="10.01" height="78.78" fill="none" stroke="#000" stroke-opacity="0.55" stroke-width="0.45"/>
<rect x="37.82" y="229.07" width="10.01" height="3.03" fill="#b0040e"/>
<rect x="37.82" y="141.2" width="10.01" height="87.87" fill="#888600"/>
<line x1="37.82" y1="229.07" x2="47.82" y2="229.07" stroke="#000" stroke-opacity="0.45" stroke-width="0.4"/>
<rect x="37.82" y="141.2" width="10.01" height="90.9" fill="none" stroke="#000" stroke-opacity="0.55" stroke-width="0.45"/>
<rect x="50.33" y="141.08" width="10.01" height="91.02" fill="#888600"/>
<rect x="50.33" y="141.08" width="10.01" height="91.02" fill="none" stroke="#000" stroke-opacity="0.55" stroke-width="0.45"/>
<rect x="62.83" y="138.65" width="10.01" height="93.45" fill="#888600"/>
<rect x="62.83" y="138.65" width="10.01" height="93.45" fill="none" stroke="#000" stroke-opacity="0.55" stroke-width="0.45"/>
<rect x="75.34" y="147.5" width="10.01" height="84.6" fill="#888600"/>
<rect x="75.34" y="147.5" width="10.01" height="84.6" fill="none" stroke="#000" stroke-opacity="0.55" stroke-width="0.45"/>
<rect x="87.85" y="159.74" width="10.01" height="72.36" fill="#888600"/>
<rect x="87.85" y="159.74" width="10.01" height="72.36" fill="none" stroke="#000" stroke-opacity="0.55" stroke-width="0.45"/>
<rect x="100.36" y="229.07" width="10.01" height="3.03" fill="#b0040e"/>
<rect x="100.36" y="150.65" width="10.01" height="78.42" fill="#888600"/>
<line x1="100.36" y1="229.07" x2="110.37" y2="229.07" stroke="#000" stroke-opacity="0.45" stroke-width="0.4"/>
<rect x="100.36" y="150.65" width="10.01" height="81.45" fill="none" stroke="#000" stroke-opacity="0.55" stroke-width="0.45"/>
<rect x="112.87" y="230.52" width="10.01" height="1.58" fill="#b0040e"/>
<rect x="112.87" y="147.74" width="10.01" height="82.78" fill="#888600"/>
<line x1="112.87" y1="230.52" x2="122.87" y2="230.52" stroke="#000" stroke-opacity="0.45" stroke-width="0.4"/>
<rect x="112.87" y="147.74" width="10.01" height="84.36" fill="none" stroke="#000" stroke-opacity="0.55" stroke-width="0.45"/>
<rect x="125.38" y="135.26" width="10.01" height="96.84" fill="#888600"/>
<rect x="125.38" y="135.26" width="10.01" height="96.84" fill="none" stroke="#000" stroke-opacity="0.55" stroke-width="0.45"/>
<rect x="137.88" y="138.53" width="10.01" height="93.57" fill="#888600"/>
<rect x="137.88" y="138.53" width="10.01" height="93.57" fill="none" stroke="#000" stroke-opacity="0.55" stroke-width="0.45"/>
<rect x="150.39" y="226.04" width="10.01" height="6.06" fill="#b0040e"/>
<rect x="150.39" y="147.14" width="10.01" height="78.9" fill="#888600"/>
<line x1="150.39" y1="226.04" x2="160.4" y2="226.04" stroke="#000" stroke-opacity="0.45" stroke-width="0.4"/>
<rect x="150.39" y="147.14" width="10.01" height="84.96" fill="none" stroke="#000" stroke-opacity="0.55" stroke-width="0.45"/>
<rect x="11.4" y="122.9" width="150.1" height="109.2" fill="none" stroke="#505050" stroke-width="0.6"/>
<line x1="11.4" y1="232.1" x2="13" y2="232.1" stroke="#505050" stroke-width="0.45"/>
<line x1="161.5" y1="232.1" x2="159.9" y2="232.1" stroke="#505050" stroke-width="0.45"/>
<text x="9.5" y="233.2" class="yl">0</text>
<line x1="11.4" y1="226.04" x2="12.3" y2="226.04" stroke="#505050" stroke-width="0.45"/>
<line x1="161.5" y1="226.04" x2="160.6" y2="226.04" stroke="#505050" stroke-width="0.45"/>
<line x1="11.4" y1="219.98" x2="13" y2="219.98" stroke="#505050" stroke-width="0.45"/>
<line x1="161.5" y1="219.98" x2="159.9" y2="219.98" stroke="#505050" stroke-width="0.45"/>
<text x="9.5" y="221.08" class="yl">1</text>
<line x1="11.4" y1="213.92" x2="12.3" y2="213.92" stroke="#505050" stroke-width="0.45"/>
<line x1="161.5" y1="213.92" x2="160.6" y2="213.92" stroke="#505050" stroke-width="0.45"/>
<line x1="11.4" y1="207.86" x2="13" y2="207.86" stroke="#505050" stroke-width="0.45"/>
<line x1="161.5" y1="207.86" x2="159.9" y2="207.86" stroke="#505050" stroke-width="0.45"/>
<text x="9.5" y="208.96" class="yl">2</text>
<line x1="11.4" y1="201.8" x2="12.3" y2="201.8" stroke="#505050" stroke-width="0.45"/>
<line x1="161.5" y1="201.8" x2="160.6" y2="201.8" stroke="#505050" stroke-width="0.45"/>
<line x1="11.4" y1="195.74" x2="13" y2="195.74" stroke="#505050" stroke-width="0.45"/>
<line x1="161.5" y1="195.74" x2="159.9" y2="195.74" stroke="#505050" stroke-width="0.45"/>
<text x="9.5" y="196.84" class="yl">3</text>
<line x1="11.4" y1="189.68" x2="12.3" y2="189.68" stroke="#505050" stroke-width="0.45"/>
<line x1="161.5" y1="189.68" x2="160.6" y2="189.68" stroke="#505050" stroke-width="0.45"/>
<line x1="11.4" y1="183.62" x2="13" y2="183.62" stroke="#505050" stroke-width="0.45"/>
<line x1="161.5" y1="183.62" x2="159.9" y2="183.62" stroke="#505050" stroke-width="0.45"/>
<text x="9.5" y="184.72" class="yl">4</text>
<line x1="11.4" y1="177.56" x2="12.3" y2="177.56" stroke="#505050" stroke-width="0.45"/>
<line x1="161.5" y1="177.56" x2="160.6" y2="177.56" stroke="#505050" stroke-width="0.45"/>
<line x1="11.4" y1="171.5" x2="13" y2="171.5" stroke="#505050" stroke-width="0.45"/>
<line x1="161.5" y1="171.5" x2="159.9" y2="171.5" stroke="#505050" stroke-width="0.45"/>
<text x="9.5" y="172.6" class="yl">5</text>
<line x1="11.4" y1="165.44" x2="12.3" y2="165.44" stroke="#505050" stroke-width="0.45"/>
<line x1="161.5" y1="165.44" x2="160.6" y2="165.44" stroke="#505050" stroke-width="0.45"/>
<line x1="11.4" y1="159.38" x2="13" y2="159.38" stroke="#505050" stroke-width="0.45"/>
<line x1="161.5" y1="159.38" x2="159.9" y2="159.38" stroke="#505050" stroke-width="0.45"/>
<text x="9.5" y="160.48" class="yl">6</text>
<line x1="11.4" y1="153.32" x2="12.3" y2="153.32" stroke="#505050" stroke-width="0.45"/>
<line x1="161.5" y1="153.32" x2="160.6" y2="153.32" stroke="#505050" stroke-width="0.45"/>
<line x1="11.4" y1="147.26" x2="13" y2="147.26" stroke="#505050" stroke-width="0.45"/>
<line x1="161.5" y1="147.26" x2="159.9" y2="147.26" stroke="#505050" stroke-width="0.45"/>
<text x="9.5" y="148.36" class="yl">7</text>
<line x1="11.4" y1="141.2" x2="12.3" y2="141.2" stroke="#505050" stroke-width="0.45"/>
<line x1="161.5" y1="141.2" x2="160.6" y2="141.2" stroke="#505050" stroke-width="0.45"/>
<line x1="11.4" y1="135.14" x2="13" y2="135.14" stroke="#505050" stroke-width="0.45"/>
<line x1="161.5" y1="135.14" x2="159.9" y2="135.14" stroke="#505050" stroke-width="0.45"/>
<text x="9.5" y="136.24" class="yl">8</text>
<line x1="11.4" y1="129.08" x2="12.3" y2="129.08" stroke="#505050" stroke-width="0.45"/>
<line x1="161.5" y1="129.08" x2="160.6" y2="129.08" stroke="#505050" stroke-width="0.45"/>
<line x1="11.4" y1="123.02" x2="13" y2="123.02" stroke="#505050" stroke-width="0.45"/>
<line x1="161.5" y1="123.02" x2="159.9" y2="123.02" stroke="#505050" stroke-width="0.45"/>
<text x="9.5" y="124.12" class="yl">9</text>
<line x1="11.4" y1="122.9" x2="11.4" y2="124.1" stroke="#505050" stroke-width="0.45"/>
<line x1="11.4" y1="232.1" x2="11.4" y2="230.9" stroke="#505050" stroke-width="0.45"/>
<line x1="17.65" y1="122.9" x2="17.65" y2="124.3" stroke="#505050" stroke-width="0.45"/>
<line x1="17.65" y1="232.1" x2="17.65" y2="230.7" stroke="#505050" stroke-width="0.45"/>
<line x1="23.91" y1="122.9" x2="23.91" y2="124.1" stroke="#505050" stroke-width="0.45"/>
<line x1="23.91" y1="232.1" x2="23.91" y2="230.9" stroke="#505050" stroke-width="0.45"/>
<line x1="30.16" y1="122.9" x2="30.16" y2="124.3" stroke="#505050" stroke-width="0.45"/>
<line x1="30.16" y1="232.1" x2="30.16" y2="230.7" stroke="#505050" stroke-width="0.45"/>
<line x1="36.42" y1="122.9" x2="36.42" y2="124.1" stroke="#505050" stroke-width="0.45"/>
<line x1="36.42" y1="232.1" x2="36.42" y2="230.9" stroke="#505050" stroke-width="0.45"/>
<line x1="42.67" y1="122.9" x2="42.67" y2="124.3" stroke="#505050" stroke-width="0.45"/>
<line x1="42.67" y1="232.1" x2="42.67" y2="230.7" stroke="#505050" stroke-width="0.45"/>
<line x1="48.92" y1="122.9" x2="48.92" y2="124.1" stroke="#505050" stroke-width="0.45"/>
<line x1="48.92" y1="232.1" x2="48.92" y2="230.9" stroke="#505050" stroke-width="0.45"/>
<line x1="55.18" y1="122.9" x2="55.18" y2="124.3" stroke="#505050" stroke-width="0.45"/>
<line x1="55.18" y1="232.1" x2="55.18" y2="230.7" stroke="#505050" stroke-width="0.45"/>
<line x1="61.43" y1="122.9" x2="61.43" y2="124.1" stroke="#505050" stroke-width="0.45"/>
<line x1="61.43" y1="232.1" x2="61.43" y2="230.9" stroke="#505050" stroke-width="0.45"/>
<line x1="67.69" y1="122.9" x2="67.69" y2="124.3" stroke="#505050" stroke-width="0.45"/>
<line x1="67.69" y1="232.1" x2="67.69" y2="230.7" stroke="#505050" stroke-width="0.45"/>
<line x1="73.94" y1="122.9" x2="73.94" y2="124.1" stroke="#505050" stroke-width="0.45"/>
<line x1="73.94" y1="232.1" x2="73.94" y2="230.9" stroke="#505050" stroke-width="0.45"/>
<line x1="80.2" y1="122.9" x2="80.2" y2="124.3" stroke="#505050" stroke-width="0.45"/>
<line x1="80.2" y1="232.1" x2="80.2" y2="230.7" stroke="#505050" stroke-width="0.45"/>
<line x1="86.45" y1="122.9" x2="86.45" y2="124.1" stroke="#505050" stroke-width="0.45"/>
<line x1="86.45" y1="232.1" x2="86.45" y2="230.9" stroke="#505050" stroke-width="0.45"/>
<line x1="92.7" y1="122.9" x2="92.7" y2="124.3" stroke="#505050" stroke-width="0.45"/>
<line x1="92.7" y1="232.1" x2="92.7" y2="230.7" stroke="#505050" stroke-width="0.45"/>
<line x1="98.96" y1="122.9" x2="98.96" y2="124.1" stroke="#505050" stroke-width="0.45"/>
<line x1="98.96" y1="232.1" x2="98.96" y2="230.9" stroke="#505050" stroke-width="0.45"/>
<line x1="105.21" y1="122.9" x2="105.21" y2="124.3" stroke="#505050" stroke-width="0.45"/>
<line x1="105.21" y1="232.1" x2="105.21" y2="230.7" stroke="#505050" stroke-width="0.45"/>
<line x1="111.47" y1="122.9" x2="111.47" y2="124.1" stroke="#505050" stroke-width="0.45"/>
<line x1="111.47" y1="232.1" x2="111.47" y2="230.9" stroke="#505050" stroke-width="0.45"/>
<line x1="117.72" y1="122.9" x2="117.72" y2="124.3" stroke="#505050" stroke-width="0.45"/>
<line x1="117.72" y1="232.1" x2="117.72" y2="230.7" stroke="#505050" stroke-width="0.45"/>
<line x1="123.97" y1="122.9" x2="123.97" y2="124.1" stroke="#505050" stroke-width="0.45"/>
<line x1="123.97" y1="232.1" x2="123.97" y2="230.9" stroke="#505050" stroke-width="0.45"/>
<line x1="130.23" y1="122.9" x2="130.23" y2="124.3" stroke="#505050" stroke-width="0.45"/>
<line x1="130.23" y1="232.1" x2="130.23" y2="230.7" stroke="#505050" stroke-width="0.45"/>
<line x1="136.48" y1="122.9" x2="136.48" y2="124.1" stroke="#505050" stroke-width="0.45"/>
<line x1="136.48" y1="232.1" x2="136.48" y2="230.9" stroke="#505050" stroke-width="0.45"/>
<line x1="142.74" y1="122.9" x2="142.74" y2="124.3" stroke="#505050" stroke-width="0.45"/>
<line x1="142.74" y1="232.1" x2="142.74" y2="230.7" stroke="#505050" stroke-width="0.45"/>
<line x1="148.99" y1="122.9" x2="148.99" y2="124.1" stroke="#505050" stroke-width="0.45"/>
<line x1="148.99" y1="232.1" x2="148.99" y2="230.9" stroke="#505050" stroke-width="0.45"/>
<line x1="155.25" y1="122.9" x2="155.25" y2="124.3" stroke="#505050" stroke-width="0.45"/>
<line x1="155.25" y1="232.1" x2="155.25" y2="230.7" stroke="#505050" stroke-width="0.45"/>
<line x1="161.5" y1="122.9" x2="161.5" y2="124.1" stroke="#505050" stroke-width="0.45"/>
<line x1="161.5" y1="232.1" x2="161.5" y2="230.9" stroke="#505050" stroke-width="0.45"/>
<text x="17.65" y="237.1" class="xl">Jan</text>
<text x="30.16" y="237.1" class="xl">Feb</text>
<text x="42.67" y="237.1" class="xl">Mar</text>
<text x="55.18" y="237.1" class="xl">Apr</text>
<text x="67.69" y="237.1" class="xl">May</text>
<text x="80.2" y="237.1" class="xl">Jun</text>
<text x="92.7" y="237.1" class="xl">Jul</text>
<text x="105.21" y="237.1" class="xl">Aug</text>
<text x="117.72" y="237.1" class="xl">Sep</text>
<text x="130.23" y="237.1" class="xl">Oct</text>
<text x="142.74" y="237.1" class="xl">Nov</text>
<text x="155.25" y="237.1" class="xl">Dec</text>
<text transform="translate(5.45,177.5) rotate(-90)" class="al">Energy (MWh)</text>
<text x="159" y="128.6" class="tt">BTS-04 Rawalpindi</text>
<rect x="13.6" y="124.3" width="9" height="4.1" fill="#888600" stroke="#55502a" stroke-width="0.3"/>
<text x="24" y="127.6" class="lg">Solar</text>
<rect x="13.6" y="129.05" width="9" height="4.1" fill="#b0040e" stroke="#55502a" stroke-width="0.3"/>
<text x="24" y="132.35" class="lg">Diesel Generator</text>
<rect x="208.24" y="213.95" width="9.54" height="18.35" fill="#13a078"/>
<rect x="208.24" y="144.22" width="9.54" height="69.73" fill="#888600"/>
<line x1="208.24" y1="213.95" x2="217.78" y2="213.95" stroke="#000" stroke-opacity="0.45" stroke-width="0.4"/>
<rect x="208.24" y="144.22" width="9.54" height="88.08" fill="none" stroke="#000" stroke-opacity="0.55" stroke-width="0.45"/>
<rect x="220.47" y="223.49" width="9.54" height="8.81" fill="#13a078"/>
<rect x="220.47" y="149.91" width="9.54" height="73.58" fill="#888600"/>
<line x1="220.47" y1="223.49" x2="230.01" y2="223.49" stroke="#000" stroke-opacity="0.45" stroke-width="0.4"/>
<rect x="220.47" y="149.91" width="9.54" height="82.39" fill="none" stroke="#000" stroke-opacity="0.55" stroke-width="0.45"/>
<rect x="232.69" y="205.33" width="9.54" height="26.97" fill="#13a078"/>
<rect x="232.69" y="141.1" width="9.54" height="64.22" fill="#888600"/>
<line x1="232.69" y1="205.33" x2="242.23" y2="205.33" stroke="#000" stroke-opacity="0.45" stroke-width="0.4"/>
<rect x="232.69" y="141.1" width="9.54" height="91.2" fill="none" stroke="#000" stroke-opacity="0.55" stroke-width="0.45"/>
<rect x="244.92" y="227.9" width="9.54" height="4.4" fill="#13a078"/>
<rect x="244.92" y="149.91" width="9.54" height="77.99" fill="#888600"/>
<line x1="244.92" y1="227.9" x2="254.46" y2="227.9" stroke="#000" stroke-opacity="0.45" stroke-width="0.4"/>
<rect x="244.92" y="149.91" width="9.54" height="82.39" fill="none" stroke="#000" stroke-opacity="0.55" stroke-width="0.45"/>
<rect x="257.14" y="227.9" width="9.54" height="4.4" fill="#13a078"/>
<rect x="257.14" y="149.91" width="9.54" height="77.99" fill="#888600"/>
<line x1="257.14" y1="227.9" x2="266.68" y2="227.9" stroke="#000" stroke-opacity="0.45" stroke-width="0.4"/>
<rect x="257.14" y="149.91" width="9.54" height="82.39" fill="none" stroke="#000" stroke-opacity="0.55" stroke-width="0.45"/>
<rect x="269.37" y="227.9" width="9.54" height="4.4" fill="#13a078"/>
<rect x="269.37" y="159.45" width="9.54" height="68.45" fill="#888600"/>
<line x1="269.37" y1="227.9" x2="278.91" y2="227.9" stroke="#000" stroke-opacity="0.45" stroke-width="0.4"/>
<rect x="269.37" y="159.45" width="9.54" height="72.85" fill="none" stroke="#000" stroke-opacity="0.55" stroke-width="0.45"/>
<rect x="281.59" y="218.17" width="9.54" height="14.13" fill="#13a078"/>
<rect x="281.59" y="159.45" width="9.54" height="58.72" fill="#888600"/>
<line x1="281.59" y1="218.17" x2="291.13" y2="218.17" stroke="#000" stroke-opacity="0.45" stroke-width="0.4"/>
<rect x="281.59" y="159.45" width="9.54" height="72.85" fill="none" stroke="#000" stroke-opacity="0.55" stroke-width="0.45"/>
<rect x="293.82" y="213.95" width="9.54" height="18.35" fill="#13a078"/>
<rect x="293.82" y="159.45" width="9.54" height="54.5" fill="#888600"/>
<line x1="293.82" y1="213.95" x2="303.36" y2="213.95" stroke="#000" stroke-opacity="0.45" stroke-width="0.4"/>
<rect x="293.82" y="159.45" width="9.54" height="72.85" fill="none" stroke="#000" stroke-opacity="0.55" stroke-width="0.45"/>
<rect x="306.04" y="213.95" width="9.54" height="18.35" fill="#13a078"/>
<rect x="306.04" y="155.6" width="9.54" height="58.35" fill="#888600"/>
<line x1="306.04" y1="213.95" x2="315.58" y2="213.95" stroke="#000" stroke-opacity="0.45" stroke-width="0.4"/>
<rect x="306.04" y="155.6" width="9.54" height="76.7" fill="none" stroke="#000" stroke-opacity="0.55" stroke-width="0.45"/>
<rect x="318.27" y="223.31" width="9.54" height="8.99" fill="#13a078"/>
<rect x="318.27" y="149.91" width="9.54" height="73.4" fill="#888600"/>
<line x1="318.27" y1="223.31" x2="327.81" y2="223.31" stroke="#000" stroke-opacity="0.45" stroke-width="0.4"/>
<rect x="318.27" y="149.91" width="9.54" height="82.39" fill="none" stroke="#000" stroke-opacity="0.55" stroke-width="0.45"/>
<rect x="330.49" y="213.95" width="9.54" height="18.35" fill="#13a078"/>
<rect x="330.49" y="155.6" width="9.54" height="58.35" fill="#888600"/>
<line x1="330.49" y1="213.95" x2="340.03" y2="213.95" stroke="#000" stroke-opacity="0.45" stroke-width="0.4"/>
<rect x="330.49" y="155.6" width="9.54" height="76.7" fill="none" stroke="#000" stroke-opacity="0.55" stroke-width="0.45"/>
<rect x="342.72" y="213.95" width="9.54" height="18.35" fill="#13a078"/>
<rect x="342.72" y="159.27" width="9.54" height="54.68" fill="#888600"/>
<line x1="342.72" y1="213.95" x2="352.26" y2="213.95" stroke="#000" stroke-opacity="0.45" stroke-width="0.4"/>
<rect x="342.72" y="159.27" width="9.54" height="73.03" fill="none" stroke="#000" stroke-opacity="0.55" stroke-width="0.45"/>
<rect x="206.9" y="122.2" width="146.7" height="110.1" fill="none" stroke="#505050" stroke-width="0.6"/>
<line x1="206.9" y1="232.3" x2="208.5" y2="232.3" stroke="#505050" stroke-width="0.45"/>
<line x1="353.6" y1="232.3" x2="352" y2="232.3" stroke="#505050" stroke-width="0.45"/>
<text x="205" y="233.4" class="yl">0</text>
<line x1="206.9" y1="213.95" x2="207.8" y2="213.95" stroke="#505050" stroke-width="0.45"/>
<line x1="353.6" y1="213.95" x2="352.7" y2="213.95" stroke="#505050" stroke-width="0.45"/>
<line x1="206.9" y1="195.6" x2="208.5" y2="195.6" stroke="#505050" stroke-width="0.45"/>
<line x1="353.6" y1="195.6" x2="352" y2="195.6" stroke="#505050" stroke-width="0.45"/>
<text x="205" y="196.7" class="yl">2</text>
<line x1="206.9" y1="177.25" x2="207.8" y2="177.25" stroke="#505050" stroke-width="0.45"/>
<line x1="353.6" y1="177.25" x2="352.7" y2="177.25" stroke="#505050" stroke-width="0.45"/>
<line x1="206.9" y1="158.9" x2="208.5" y2="158.9" stroke="#505050" stroke-width="0.45"/>
<line x1="353.6" y1="158.9" x2="352" y2="158.9" stroke="#505050" stroke-width="0.45"/>
<text x="205" y="160" class="yl">4</text>
<line x1="206.9" y1="140.55" x2="207.8" y2="140.55" stroke="#505050" stroke-width="0.45"/>
<line x1="353.6" y1="140.55" x2="352.7" y2="140.55" stroke="#505050" stroke-width="0.45"/>
<line x1="206.9" y1="122.2" x2="208.5" y2="122.2" stroke="#505050" stroke-width="0.45"/>
<line x1="353.6" y1="122.2" x2="352" y2="122.2" stroke="#505050" stroke-width="0.45"/>
<text x="205" y="123.3" class="yl">6</text>
<line x1="206.9" y1="122.2" x2="206.9" y2="123.4" stroke="#505050" stroke-width="0.45"/>
<line x1="206.9" y1="232.3" x2="206.9" y2="231.1" stroke="#505050" stroke-width="0.45"/>
<line x1="213.01" y1="122.2" x2="213.01" y2="123.6" stroke="#505050" stroke-width="0.45"/>
<line x1="213.01" y1="232.3" x2="213.01" y2="230.9" stroke="#505050" stroke-width="0.45"/>
<line x1="219.12" y1="122.2" x2="219.12" y2="123.4" stroke="#505050" stroke-width="0.45"/>
<line x1="219.12" y1="232.3" x2="219.12" y2="231.1" stroke="#505050" stroke-width="0.45"/>
<line x1="225.24" y1="122.2" x2="225.24" y2="123.6" stroke="#505050" stroke-width="0.45"/>
<line x1="225.24" y1="232.3" x2="225.24" y2="230.9" stroke="#505050" stroke-width="0.45"/>
<line x1="231.35" y1="122.2" x2="231.35" y2="123.4" stroke="#505050" stroke-width="0.45"/>
<line x1="231.35" y1="232.3" x2="231.35" y2="231.1" stroke="#505050" stroke-width="0.45"/>
<line x1="237.46" y1="122.2" x2="237.46" y2="123.6" stroke="#505050" stroke-width="0.45"/>
<line x1="237.46" y1="232.3" x2="237.46" y2="230.9" stroke="#505050" stroke-width="0.45"/>
<line x1="243.58" y1="122.2" x2="243.58" y2="123.4" stroke="#505050" stroke-width="0.45"/>
<line x1="243.58" y1="232.3" x2="243.58" y2="231.1" stroke="#505050" stroke-width="0.45"/>
<line x1="249.69" y1="122.2" x2="249.69" y2="123.6" stroke="#505050" stroke-width="0.45"/>
<line x1="249.69" y1="232.3" x2="249.69" y2="230.9" stroke="#505050" stroke-width="0.45"/>
<line x1="255.8" y1="122.2" x2="255.8" y2="123.4" stroke="#505050" stroke-width="0.45"/>
<line x1="255.8" y1="232.3" x2="255.8" y2="231.1" stroke="#505050" stroke-width="0.45"/>
<line x1="261.91" y1="122.2" x2="261.91" y2="123.6" stroke="#505050" stroke-width="0.45"/>
<line x1="261.91" y1="232.3" x2="261.91" y2="230.9" stroke="#505050" stroke-width="0.45"/>
<line x1="268.03" y1="122.2" x2="268.03" y2="123.4" stroke="#505050" stroke-width="0.45"/>
<line x1="268.03" y1="232.3" x2="268.03" y2="231.1" stroke="#505050" stroke-width="0.45"/>
<line x1="274.14" y1="122.2" x2="274.14" y2="123.6" stroke="#505050" stroke-width="0.45"/>
<line x1="274.14" y1="232.3" x2="274.14" y2="230.9" stroke="#505050" stroke-width="0.45"/>
<line x1="280.25" y1="122.2" x2="280.25" y2="123.4" stroke="#505050" stroke-width="0.45"/>
<line x1="280.25" y1="232.3" x2="280.25" y2="231.1" stroke="#505050" stroke-width="0.45"/>
<line x1="286.36" y1="122.2" x2="286.36" y2="123.6" stroke="#505050" stroke-width="0.45"/>
<line x1="286.36" y1="232.3" x2="286.36" y2="230.9" stroke="#505050" stroke-width="0.45"/>
<line x1="292.48" y1="122.2" x2="292.48" y2="123.4" stroke="#505050" stroke-width="0.45"/>
<line x1="292.48" y1="232.3" x2="292.48" y2="231.1" stroke="#505050" stroke-width="0.45"/>
<line x1="298.59" y1="122.2" x2="298.59" y2="123.6" stroke="#505050" stroke-width="0.45"/>
<line x1="298.59" y1="232.3" x2="298.59" y2="230.9" stroke="#505050" stroke-width="0.45"/>
<line x1="304.7" y1="122.2" x2="304.7" y2="123.4" stroke="#505050" stroke-width="0.45"/>
<line x1="304.7" y1="232.3" x2="304.7" y2="231.1" stroke="#505050" stroke-width="0.45"/>
<line x1="310.81" y1="122.2" x2="310.81" y2="123.6" stroke="#505050" stroke-width="0.45"/>
<line x1="310.81" y1="232.3" x2="310.81" y2="230.9" stroke="#505050" stroke-width="0.45"/>
<line x1="316.93" y1="122.2" x2="316.93" y2="123.4" stroke="#505050" stroke-width="0.45"/>
<line x1="316.93" y1="232.3" x2="316.93" y2="231.1" stroke="#505050" stroke-width="0.45"/>
<line x1="323.04" y1="122.2" x2="323.04" y2="123.6" stroke="#505050" stroke-width="0.45"/>
<line x1="323.04" y1="232.3" x2="323.04" y2="230.9" stroke="#505050" stroke-width="0.45"/>
<line x1="329.15" y1="122.2" x2="329.15" y2="123.4" stroke="#505050" stroke-width="0.45"/>
<line x1="329.15" y1="232.3" x2="329.15" y2="231.1" stroke="#505050" stroke-width="0.45"/>
<line x1="335.26" y1="122.2" x2="335.26" y2="123.6" stroke="#505050" stroke-width="0.45"/>
<line x1="335.26" y1="232.3" x2="335.26" y2="230.9" stroke="#505050" stroke-width="0.45"/>
<line x1="341.38" y1="122.2" x2="341.38" y2="123.4" stroke="#505050" stroke-width="0.45"/>
<line x1="341.38" y1="232.3" x2="341.38" y2="231.1" stroke="#505050" stroke-width="0.45"/>
<line x1="347.49" y1="122.2" x2="347.49" y2="123.6" stroke="#505050" stroke-width="0.45"/>
<line x1="347.49" y1="232.3" x2="347.49" y2="230.9" stroke="#505050" stroke-width="0.45"/>
<line x1="353.6" y1="122.2" x2="353.6" y2="123.4" stroke="#505050" stroke-width="0.45"/>
<line x1="353.6" y1="232.3" x2="353.6" y2="231.1" stroke="#505050" stroke-width="0.45"/>
<text x="213.01" y="237.3" class="xl">Jan</text>
<text x="225.24" y="237.3" class="xl">Feb</text>
<text x="237.46" y="237.3" class="xl">Mar</text>
<text x="249.69" y="237.3" class="xl">Apr</text>
<text x="261.91" y="237.3" class="xl">May</text>
<text x="274.14" y="237.3" class="xl">Jun</text>
<text x="286.36" y="237.3" class="xl">Jul</text>
<text x="298.59" y="237.3" class="xl">Aug</text>
<text x="310.81" y="237.3" class="xl">Sep</text>
<text x="323.04" y="237.3" class="xl">Oct</text>
<text x="335.26" y="237.3" class="xl">Nov</text>
<text x="347.49" y="237.3" class="xl">Dec</text>
<text transform="translate(201.05,177.25) rotate(-90)" class="al">Energy (MWh)</text>
<text x="351.7" y="128.4" class="tt">BTS-05 Talagang</text>
<rect x="209.1" y="124.2" width="9" height="4.1" fill="#888600" stroke="#55502a" stroke-width="0.3"/>
<text x="219.5" y="127.5" class="lg">Solar</text>
<rect x="209.1" y="128.95" width="9" height="4.1" fill="#13a078" stroke="#55502a" stroke-width="0.3"/>
<text x="219.5" y="132.25" class="lg">Biomass</text>
<rect x="400.58" y="226.2" width="10.52" height="6.1" fill="#b0040e"/>
<rect x="400.58" y="149.71" width="10.52" height="76.49" fill="#888600"/>
<line x1="400.58" y1="226.2" x2="411.1" y2="226.2" stroke="#000" stroke-opacity="0.45" stroke-width="0.4"/>
<rect x="400.58" y="149.71" width="10.52" height="82.59" fill="none" stroke="#000" stroke-opacity="0.55" stroke-width="0.45"/>
<rect x="413.55" y="229.62" width="9.82" height="2.68" fill="#b0040e"/>
<rect x="413.55" y="158.86" width="9.82" height="70.76" fill="#888600"/>
<line x1="413.55" y1="229.62" x2="423.37" y2="229.62" stroke="#000" stroke-opacity="0.45" stroke-width="0.4"/>
<rect x="413.55" y="158.86" width="9.82" height="73.44" fill="none" stroke="#000" stroke-opacity="0.55" stroke-width="0.45"/>
<rect x="425.83" y="229.62" width="9.82" height="2.68" fill="#b0040e"/>
<rect x="425.83" y="140.56" width="9.82" height="89.06" fill="#888600"/>
<line x1="425.83" y1="229.62" x2="435.65" y2="229.62" stroke="#000" stroke-opacity="0.45" stroke-width="0.4"/>
<rect x="425.83" y="140.56" width="9.82" height="91.74" fill="none" stroke="#000" stroke-opacity="0.55" stroke-width="0.45"/>
<rect x="438.1" y="140.43" width="9.82" height="91.87" fill="#888600"/>
<rect x="438.1" y="140.43" width="9.82" height="91.87" fill="none" stroke="#000" stroke-opacity="0.55" stroke-width="0.45"/>
<rect x="450.38" y="137.38" width="9.82" height="94.92" fill="#888600"/>
<rect x="450.38" y="137.38" width="9.82" height="94.92" fill="none" stroke="#000" stroke-opacity="0.55" stroke-width="0.45"/>
<rect x="462.65" y="147.75" width="9.82" height="84.55" fill="#888600"/>
<rect x="462.65" y="147.75" width="9.82" height="84.55" fill="none" stroke="#000" stroke-opacity="0.55" stroke-width="0.45"/>
<rect x="474.93" y="155.81" width="9.82" height="76.49" fill="#888600"/>
<rect x="474.93" y="155.81" width="9.82" height="76.49" fill="none" stroke="#000" stroke-opacity="0.55" stroke-width="0.45"/>
<rect x="487.2" y="229.62" width="9.82" height="2.68" fill="#b0040e"/>
<rect x="487.2" y="152.76" width="9.82" height="76.86" fill="#888600"/>
<line x1="487.2" y1="229.62" x2="497.02" y2="229.62" stroke="#000" stroke-opacity="0.45" stroke-width="0.4"/>
<rect x="487.2" y="152.76" width="9.82" height="79.54" fill="none" stroke="#000" stroke-opacity="0.55" stroke-width="0.45"/>
<rect x="499.48" y="230.96" width="9.82" height="1.34" fill="#b0040e"/>
<rect x="499.48" y="146.41" width="9.82" height="84.55" fill="#888600"/>
<line x1="499.48" y1="230.96" x2="509.3" y2="230.96" stroke="#000" stroke-opacity="0.45" stroke-width="0.4"/>
<rect x="499.48" y="146.41" width="9.82" height="85.89" fill="none" stroke="#000" stroke-opacity="0.55" stroke-width="0.45"/>
<rect x="511.75" y="135.43" width="9.82" height="96.87" fill="#888600"/>
<rect x="511.75" y="135.43" width="9.82" height="96.87" fill="none" stroke="#000" stroke-opacity="0.55" stroke-width="0.45"/>
<rect x="524.03" y="137.02" width="9.82" height="95.28" fill="#888600"/>
<rect x="524.03" y="137.02" width="9.82" height="95.28" fill="none" stroke="#000" stroke-opacity="0.55" stroke-width="0.45"/>
<rect x="536.3" y="226.2" width="9.82" height="6.1" fill="#b0040e"/>
<rect x="536.3" y="145.92" width="9.82" height="80.28" fill="#888600"/>
<line x1="536.3" y1="226.2" x2="546.12" y2="226.2" stroke="#000" stroke-opacity="0.45" stroke-width="0.4"/>
<rect x="536.3" y="145.92" width="9.82" height="86.38" fill="none" stroke="#000" stroke-opacity="0.55" stroke-width="0.45"/>
<rect x="399.9" y="122.5" width="147.3" height="109.8" fill="none" stroke="#505050" stroke-width="0.6"/>
<line x1="399.9" y1="232.3" x2="401.5" y2="232.3" stroke="#505050" stroke-width="0.45"/>
<line x1="547.2" y1="232.3" x2="545.6" y2="232.3" stroke="#505050" stroke-width="0.45"/>
<text x="398" y="233.4" class="yl">0</text>
<line x1="399.9" y1="226.2" x2="400.8" y2="226.2" stroke="#505050" stroke-width="0.45"/>
<line x1="547.2" y1="226.2" x2="546.3" y2="226.2" stroke="#505050" stroke-width="0.45"/>
<line x1="399.9" y1="220.1" x2="401.5" y2="220.1" stroke="#505050" stroke-width="0.45"/>
<line x1="547.2" y1="220.1" x2="545.6" y2="220.1" stroke="#505050" stroke-width="0.45"/>
<text x="398" y="221.2" class="yl">1</text>
<line x1="399.9" y1="214" x2="400.8" y2="214" stroke="#505050" stroke-width="0.45"/>
<line x1="547.2" y1="214" x2="546.3" y2="214" stroke="#505050" stroke-width="0.45"/>
<line x1="399.9" y1="207.9" x2="401.5" y2="207.9" stroke="#505050" stroke-width="0.45"/>
<line x1="547.2" y1="207.9" x2="545.6" y2="207.9" stroke="#505050" stroke-width="0.45"/>
<text x="398" y="209" class="yl">2</text>
<line x1="399.9" y1="201.8" x2="400.8" y2="201.8" stroke="#505050" stroke-width="0.45"/>
<line x1="547.2" y1="201.8" x2="546.3" y2="201.8" stroke="#505050" stroke-width="0.45"/>
<line x1="399.9" y1="195.7" x2="401.5" y2="195.7" stroke="#505050" stroke-width="0.45"/>
<line x1="547.2" y1="195.7" x2="545.6" y2="195.7" stroke="#505050" stroke-width="0.45"/>
<text x="398" y="196.8" class="yl">3</text>
<line x1="399.9" y1="189.6" x2="400.8" y2="189.6" stroke="#505050" stroke-width="0.45"/>
<line x1="547.2" y1="189.6" x2="546.3" y2="189.6" stroke="#505050" stroke-width="0.45"/>
<line x1="399.9" y1="183.5" x2="401.5" y2="183.5" stroke="#505050" stroke-width="0.45"/>
<line x1="547.2" y1="183.5" x2="545.6" y2="183.5" stroke="#505050" stroke-width="0.45"/>
<text x="398" y="184.6" class="yl">4</text>
<line x1="399.9" y1="177.4" x2="400.8" y2="177.4" stroke="#505050" stroke-width="0.45"/>
<line x1="547.2" y1="177.4" x2="546.3" y2="177.4" stroke="#505050" stroke-width="0.45"/>
<line x1="399.9" y1="171.3" x2="401.5" y2="171.3" stroke="#505050" stroke-width="0.45"/>
<line x1="547.2" y1="171.3" x2="545.6" y2="171.3" stroke="#505050" stroke-width="0.45"/>
<text x="398" y="172.4" class="yl">5</text>
<line x1="399.9" y1="165.2" x2="400.8" y2="165.2" stroke="#505050" stroke-width="0.45"/>
<line x1="547.2" y1="165.2" x2="546.3" y2="165.2" stroke="#505050" stroke-width="0.45"/>
<line x1="399.9" y1="159.1" x2="401.5" y2="159.1" stroke="#505050" stroke-width="0.45"/>
<line x1="547.2" y1="159.1" x2="545.6" y2="159.1" stroke="#505050" stroke-width="0.45"/>
<text x="398" y="160.2" class="yl">6</text>
<line x1="399.9" y1="153" x2="400.8" y2="153" stroke="#505050" stroke-width="0.45"/>
<line x1="547.2" y1="153" x2="546.3" y2="153" stroke="#505050" stroke-width="0.45"/>
<line x1="399.9" y1="146.9" x2="401.5" y2="146.9" stroke="#505050" stroke-width="0.45"/>
<line x1="547.2" y1="146.9" x2="545.6" y2="146.9" stroke="#505050" stroke-width="0.45"/>
<text x="398" y="148" class="yl">7</text>
<line x1="399.9" y1="140.8" x2="400.8" y2="140.8" stroke="#505050" stroke-width="0.45"/>
<line x1="547.2" y1="140.8" x2="546.3" y2="140.8" stroke="#505050" stroke-width="0.45"/>
<line x1="399.9" y1="134.7" x2="401.5" y2="134.7" stroke="#505050" stroke-width="0.45"/>
<line x1="547.2" y1="134.7" x2="545.6" y2="134.7" stroke="#505050" stroke-width="0.45"/>
<text x="398" y="135.8" class="yl">8</text>
<line x1="399.9" y1="128.6" x2="400.8" y2="128.6" stroke="#505050" stroke-width="0.45"/>
<line x1="547.2" y1="128.6" x2="546.3" y2="128.6" stroke="#505050" stroke-width="0.45"/>
<line x1="399.9" y1="122.5" x2="401.5" y2="122.5" stroke="#505050" stroke-width="0.45"/>
<line x1="547.2" y1="122.5" x2="545.6" y2="122.5" stroke="#505050" stroke-width="0.45"/>
<text x="398" y="123.6" class="yl">9</text>
<line x1="399.9" y1="122.5" x2="399.9" y2="123.7" stroke="#505050" stroke-width="0.45"/>
<line x1="399.9" y1="232.3" x2="399.9" y2="231.1" stroke="#505050" stroke-width="0.45"/>
<line x1="406.04" y1="122.5" x2="406.04" y2="123.9" stroke="#505050" stroke-width="0.45"/>
<line x1="406.04" y1="232.3" x2="406.04" y2="230.9" stroke="#505050" stroke-width="0.45"/>
<line x1="412.17" y1="122.5" x2="412.17" y2="123.7" stroke="#505050" stroke-width="0.45"/>
<line x1="412.17" y1="232.3" x2="412.17" y2="231.1" stroke="#505050" stroke-width="0.45"/>
<line x1="418.31" y1="122.5" x2="418.31" y2="123.9" stroke="#505050" stroke-width="0.45"/>
<line x1="418.31" y1="232.3" x2="418.31" y2="230.9" stroke="#505050" stroke-width="0.45"/>
<line x1="424.45" y1="122.5" x2="424.45" y2="123.7" stroke="#505050" stroke-width="0.45"/>
<line x1="424.45" y1="232.3" x2="424.45" y2="231.1" stroke="#505050" stroke-width="0.45"/>
<line x1="430.59" y1="122.5" x2="430.59" y2="123.9" stroke="#505050" stroke-width="0.45"/>
<line x1="430.59" y1="232.3" x2="430.59" y2="230.9" stroke="#505050" stroke-width="0.45"/>
<line x1="436.73" y1="122.5" x2="436.73" y2="123.7" stroke="#505050" stroke-width="0.45"/>
<line x1="436.73" y1="232.3" x2="436.73" y2="231.1" stroke="#505050" stroke-width="0.45"/>
<line x1="442.86" y1="122.5" x2="442.86" y2="123.9" stroke="#505050" stroke-width="0.45"/>
<line x1="442.86" y1="232.3" x2="442.86" y2="230.9" stroke="#505050" stroke-width="0.45"/>
<line x1="449" y1="122.5" x2="449" y2="123.7" stroke="#505050" stroke-width="0.45"/>
<line x1="449" y1="232.3" x2="449" y2="231.1" stroke="#505050" stroke-width="0.45"/>
<line x1="455.14" y1="122.5" x2="455.14" y2="123.9" stroke="#505050" stroke-width="0.45"/>
<line x1="455.14" y1="232.3" x2="455.14" y2="230.9" stroke="#505050" stroke-width="0.45"/>
<line x1="461.27" y1="122.5" x2="461.27" y2="123.7" stroke="#505050" stroke-width="0.45"/>
<line x1="461.27" y1="232.3" x2="461.27" y2="231.1" stroke="#505050" stroke-width="0.45"/>
<line x1="467.41" y1="122.5" x2="467.41" y2="123.9" stroke="#505050" stroke-width="0.45"/>
<line x1="467.41" y1="232.3" x2="467.41" y2="230.9" stroke="#505050" stroke-width="0.45"/>
<line x1="473.55" y1="122.5" x2="473.55" y2="123.7" stroke="#505050" stroke-width="0.45"/>
<line x1="473.55" y1="232.3" x2="473.55" y2="231.1" stroke="#505050" stroke-width="0.45"/>
<line x1="479.69" y1="122.5" x2="479.69" y2="123.9" stroke="#505050" stroke-width="0.45"/>
<line x1="479.69" y1="232.3" x2="479.69" y2="230.9" stroke="#505050" stroke-width="0.45"/>
<line x1="485.83" y1="122.5" x2="485.83" y2="123.7" stroke="#505050" stroke-width="0.45"/>
<line x1="485.83" y1="232.3" x2="485.83" y2="231.1" stroke="#505050" stroke-width="0.45"/>
<line x1="491.96" y1="122.5" x2="491.96" y2="123.9" stroke="#505050" stroke-width="0.45"/>
<line x1="491.96" y1="232.3" x2="491.96" y2="230.9" stroke="#505050" stroke-width="0.45"/>
<line x1="498.1" y1="122.5" x2="498.1" y2="123.7" stroke="#505050" stroke-width="0.45"/>
<line x1="498.1" y1="232.3" x2="498.1" y2="231.1" stroke="#505050" stroke-width="0.45"/>
<line x1="504.24" y1="122.5" x2="504.24" y2="123.9" stroke="#505050" stroke-width="0.45"/>
<line x1="504.24" y1="232.3" x2="504.24" y2="230.9" stroke="#505050" stroke-width="0.45"/>
<line x1="510.38" y1="122.5" x2="510.38" y2="123.7" stroke="#505050" stroke-width="0.45"/>
<line x1="510.38" y1="232.3" x2="510.38" y2="231.1" stroke="#505050" stroke-width="0.45"/>
<line x1="516.51" y1="122.5" x2="516.51" y2="123.9" stroke="#505050" stroke-width="0.45"/>
<line x1="516.51" y1="232.3" x2="516.51" y2="230.9" stroke="#505050" stroke-width="0.45"/>
<line x1="522.65" y1="122.5" x2="522.65" y2="123.7" stroke="#505050" stroke-width="0.45"/>
<line x1="522.65" y1="232.3" x2="522.65" y2="231.1" stroke="#505050" stroke-width="0.45"/>
<line x1="528.79" y1="122.5" x2="528.79" y2="123.9" stroke="#505050" stroke-width="0.45"/>
<line x1="528.79" y1="232.3" x2="528.79" y2="230.9" stroke="#505050" stroke-width="0.45"/>
<line x1="534.93" y1="122.5" x2="534.93" y2="123.7" stroke="#505050" stroke-width="0.45"/>
<line x1="534.93" y1="232.3" x2="534.93" y2="231.1" stroke="#505050" stroke-width="0.45"/>
<line x1="541.06" y1="122.5" x2="541.06" y2="123.9" stroke="#505050" stroke-width="0.45"/>
<line x1="541.06" y1="232.3" x2="541.06" y2="230.9" stroke="#505050" stroke-width="0.45"/>
<line x1="547.2" y1="122.5" x2="547.2" y2="123.7" stroke="#505050" stroke-width="0.45"/>
<line x1="547.2" y1="232.3" x2="547.2" y2="231.1" stroke="#505050" stroke-width="0.45"/>
<text x="406.04" y="237.3" class="xl">Jan</text>
<text x="418.31" y="237.3" class="xl">Feb</text>
<text x="430.59" y="237.3" class="xl">Mar</text>
<text x="442.86" y="237.3" class="xl">Apr</text>
<text x="455.14" y="237.3" class="xl">May</text>
<text x="467.41" y="237.3" class="xl">Jun</text>
<text x="479.69" y="237.3" class="xl">Jul</text>
<text x="491.96" y="237.3" class="xl">Aug</text>
<text x="504.24" y="237.3" class="xl">Sep</text>
<text x="516.51" y="237.3" class="xl">Oct</text>
<text x="528.79" y="237.3" class="xl">Nov</text>
<text x="541.06" y="237.3" class="xl">Dec</text>
<text transform="translate(393.65,177.4) rotate(-90)" class="al">Energy (MWh)</text>
<text x="545.1" y="128.4" class="tt">BTS-06 Taxila</text>
<rect x="402.1" y="124.1" width="9" height="4.1" fill="#888600" stroke="#55502a" stroke-width="0.3"/>
<text x="412.5" y="127.4" class="lg">Solar</text>
<rect x="402.1" y="128.85" width="9" height="4.1" fill="#b0040e" stroke="#55502a" stroke-width="0.3"/>
<text x="412.5" y="132.15" class="lg">Diesel Generator</text>
<rect x="14.55" y="350.62" width="10" height="6.88" fill="#b0040e"/>
<rect x="14.55" y="266.57" width="10" height="84.06" fill="#888600"/>
<line x1="14.55" y1="350.62" x2="24.55" y2="350.62" stroke="#000" stroke-opacity="0.45" stroke-width="0.4"/>
<rect x="14.55" y="266.57" width="10" height="90.93" fill="none" stroke="#000" stroke-opacity="0.55" stroke-width="0.45"/>
<rect x="27.26" y="355.02" width="9.6" height="2.48" fill="#b0040e"/>
<rect x="27.26" y="275.37" width="9.6" height="79.66" fill="#888600"/>
<line x1="27.26" y1="355.02" x2="36.86" y2="355.02" stroke="#000" stroke-opacity="0.45" stroke-width="0.4"/>
<rect x="27.26" y="275.37" width="9.6" height="82.13" fill="none" stroke="#000" stroke-opacity="0.55" stroke-width="0.45"/>
<rect x="39.57" y="355.02" width="9.6" height="2.48" fill="#b0040e"/>
<rect x="39.57" y="264.55" width="9.6" height="90.47" fill="#888600"/>
<line x1="39.57" y1="355.02" x2="49.17" y2="355.02" stroke="#000" stroke-opacity="0.45" stroke-width="0.4"/>
<rect x="39.57" y="264.55" width="9.6" height="92.95" fill="none" stroke="#000" stroke-opacity="0.55" stroke-width="0.45"/>
<rect x="51.88" y="266.57" width="9.6" height="90.93" fill="#888600"/>
<rect x="51.88" y="266.57" width="9.6" height="90.93" fill="none" stroke="#000" stroke-opacity="0.55" stroke-width="0.45"/>
<rect x="64.19" y="264.27" width="9.6" height="93.23" fill="#888600"/>
<rect x="64.19" y="264.27" width="9.6" height="93.23" fill="none" stroke="#000" stroke-opacity="0.55" stroke-width="0.45"/>
<rect x="76.5" y="264.83" width="9.6" height="92.67" fill="#888600"/>
<rect x="76.5" y="264.83" width="9.6" height="92.67" fill="none" stroke="#000" stroke-opacity="0.55" stroke-width="0.45"/>
<rect x="88.8" y="266.57" width="9.6" height="90.93" fill="#888600"/>
<rect x="88.8" y="266.57" width="9.6" height="90.93" fill="none" stroke="#000" stroke-opacity="0.55" stroke-width="0.45"/>
<rect x="101.11" y="355.94" width="9.6" height="1.56" fill="#b0040e"/>
<rect x="101.11" y="266.29" width="9.6" height="89.65" fill="#888600"/>
<line x1="101.11" y1="355.94" x2="110.71" y2="355.94" stroke="#000" stroke-opacity="0.45" stroke-width="0.4"/>
<rect x="101.11" y="266.29" width="9.6" height="91.21" fill="none" stroke="#000" stroke-opacity="0.55" stroke-width="0.45"/>
<rect x="113.42" y="355.94" width="9.6" height="1.56" fill="#b0040e"/>
<rect x="113.42" y="265.19" width="9.6" height="90.75" fill="#888600"/>
<line x1="113.42" y1="355.94" x2="123.02" y2="355.94" stroke="#000" stroke-opacity="0.45" stroke-width="0.4"/>
<rect x="113.42" y="265.19" width="9.6" height="92.31" fill="none" stroke="#000" stroke-opacity="0.55" stroke-width="0.45"/>
<rect x="125.73" y="261.43" width="9.6" height="96.07" fill="#888600"/>
<rect x="125.73" y="261.43" width="9.6" height="96.07" fill="none" stroke="#000" stroke-opacity="0.55" stroke-width="0.45"/>
<rect x="138.04" y="268.22" width="9.6" height="89.28" fill="#888600"/>
<rect x="138.04" y="268.22" width="9.6" height="89.28" fill="none" stroke="#000" stroke-opacity="0.55" stroke-width="0.45"/>
<rect x="150.35" y="352.92" width="9.6" height="4.58" fill="#b0040e"/>
<rect x="150.35" y="270.78" width="9.6" height="82.13" fill="#888600"/>
<line x1="150.35" y1="352.92" x2="159.95" y2="352.92" stroke="#000" stroke-opacity="0.45" stroke-width="0.4"/>
<rect x="150.35" y="270.78" width="9.6" height="86.72" fill="none" stroke="#000" stroke-opacity="0.55" stroke-width="0.45"/>
<rect x="13.3" y="247.5" width="147.7" height="110" fill="none" stroke="#505050" stroke-width="0.6"/>
<line x1="13.3" y1="357.5" x2="14.9" y2="357.5" stroke="#505050" stroke-width="0.45"/>
<line x1="161" y1="357.5" x2="159.4" y2="357.5" stroke="#505050" stroke-width="0.45"/>
<text x="11.4" y="358.6" class="yl">0</text>
<line x1="13.3" y1="352.92" x2="14.2" y2="352.92" stroke="#505050" stroke-width="0.45"/>
<line x1="161" y1="352.92" x2="160.1" y2="352.92" stroke="#505050" stroke-width="0.45"/>
<line x1="13.3" y1="348.33" x2="14.9" y2="348.33" stroke="#505050" stroke-width="0.45"/>
<line x1="161" y1="348.33" x2="159.4" y2="348.33" stroke="#505050" stroke-width="0.45"/>
<text x="11.4" y="349.43" class="yl">1</text>
<line x1="13.3" y1="343.75" x2="14.2" y2="343.75" stroke="#505050" stroke-width="0.45"/>
<line x1="161" y1="343.75" x2="160.1" y2="343.75" stroke="#505050" stroke-width="0.45"/>
<line x1="13.3" y1="339.17" x2="14.9" y2="339.17" stroke="#505050" stroke-width="0.45"/>
<line x1="161" y1="339.17" x2="159.4" y2="339.17" stroke="#505050" stroke-width="0.45"/>
<text x="11.4" y="340.27" class="yl">2</text>
<line x1="13.3" y1="334.58" x2="14.2" y2="334.58" stroke="#505050" stroke-width="0.45"/>
<line x1="161" y1="334.58" x2="160.1" y2="334.58" stroke="#505050" stroke-width="0.45"/>
<line x1="13.3" y1="330" x2="14.9" y2="330" stroke="#505050" stroke-width="0.45"/>
<line x1="161" y1="330" x2="159.4" y2="330" stroke="#505050" stroke-width="0.45"/>
<text x="11.4" y="331.1" class="yl">3</text>
<line x1="13.3" y1="325.42" x2="14.2" y2="325.42" stroke="#505050" stroke-width="0.45"/>
<line x1="161" y1="325.42" x2="160.1" y2="325.42" stroke="#505050" stroke-width="0.45"/>
<line x1="13.3" y1="320.83" x2="14.9" y2="320.83" stroke="#505050" stroke-width="0.45"/>
<line x1="161" y1="320.83" x2="159.4" y2="320.83" stroke="#505050" stroke-width="0.45"/>
<text x="11.4" y="321.93" class="yl">4</text>
<line x1="13.3" y1="316.25" x2="14.2" y2="316.25" stroke="#505050" stroke-width="0.45"/>
<line x1="161" y1="316.25" x2="160.1" y2="316.25" stroke="#505050" stroke-width="0.45"/>
<line x1="13.3" y1="311.67" x2="14.9" y2="311.67" stroke="#505050" stroke-width="0.45"/>
<line x1="161" y1="311.67" x2="159.4" y2="311.67" stroke="#505050" stroke-width="0.45"/>
<text x="11.4" y="312.77" class="yl">5</text>
<line x1="13.3" y1="307.08" x2="14.2" y2="307.08" stroke="#505050" stroke-width="0.45"/>
<line x1="161" y1="307.08" x2="160.1" y2="307.08" stroke="#505050" stroke-width="0.45"/>
<line x1="13.3" y1="302.5" x2="14.9" y2="302.5" stroke="#505050" stroke-width="0.45"/>
<line x1="161" y1="302.5" x2="159.4" y2="302.5" stroke="#505050" stroke-width="0.45"/>
<text x="11.4" y="303.6" class="yl">6</text>
<line x1="13.3" y1="297.92" x2="14.2" y2="297.92" stroke="#505050" stroke-width="0.45"/>
<line x1="161" y1="297.92" x2="160.1" y2="297.92" stroke="#505050" stroke-width="0.45"/>
<line x1="13.3" y1="293.33" x2="14.9" y2="293.33" stroke="#505050" stroke-width="0.45"/>
<line x1="161" y1="293.33" x2="159.4" y2="293.33" stroke="#505050" stroke-width="0.45"/>
<text x="11.4" y="294.43" class="yl">7</text>
<line x1="13.3" y1="288.75" x2="14.2" y2="288.75" stroke="#505050" stroke-width="0.45"/>
<line x1="161" y1="288.75" x2="160.1" y2="288.75" stroke="#505050" stroke-width="0.45"/>
<line x1="13.3" y1="284.17" x2="14.9" y2="284.17" stroke="#505050" stroke-width="0.45"/>
<line x1="161" y1="284.17" x2="159.4" y2="284.17" stroke="#505050" stroke-width="0.45"/>
<text x="11.4" y="285.27" class="yl">8</text>
<line x1="13.3" y1="279.58" x2="14.2" y2="279.58" stroke="#505050" stroke-width="0.45"/>
<line x1="161" y1="279.58" x2="160.1" y2="279.58" stroke="#505050" stroke-width="0.45"/>
<line x1="13.3" y1="275" x2="14.9" y2="275" stroke="#505050" stroke-width="0.45"/>
<line x1="161" y1="275" x2="159.4" y2="275" stroke="#505050" stroke-width="0.45"/>
<text x="11.4" y="276.1" class="yl">9</text>
<line x1="13.3" y1="270.42" x2="14.2" y2="270.42" stroke="#505050" stroke-width="0.45"/>
<line x1="161" y1="270.42" x2="160.1" y2="270.42" stroke="#505050" stroke-width="0.45"/>
<line x1="13.3" y1="265.83" x2="14.9" y2="265.83" stroke="#505050" stroke-width="0.45"/>
<line x1="161" y1="265.83" x2="159.4" y2="265.83" stroke="#505050" stroke-width="0.45"/>
<text x="11.4" y="266.93" class="yl">10</text>
<line x1="13.3" y1="261.25" x2="14.2" y2="261.25" stroke="#505050" stroke-width="0.45"/>
<line x1="161" y1="261.25" x2="160.1" y2="261.25" stroke="#505050" stroke-width="0.45"/>
<line x1="13.3" y1="256.67" x2="14.9" y2="256.67" stroke="#505050" stroke-width="0.45"/>
<line x1="161" y1="256.67" x2="159.4" y2="256.67" stroke="#505050" stroke-width="0.45"/>
<text x="11.4" y="257.77" class="yl">11</text>
<line x1="13.3" y1="252.08" x2="14.2" y2="252.08" stroke="#505050" stroke-width="0.45"/>
<line x1="161" y1="252.08" x2="160.1" y2="252.08" stroke="#505050" stroke-width="0.45"/>
<line x1="13.3" y1="247.5" x2="14.9" y2="247.5" stroke="#505050" stroke-width="0.45"/>
<line x1="161" y1="247.5" x2="159.4" y2="247.5" stroke="#505050" stroke-width="0.45"/>
<text x="11.4" y="248.6" class="yl">12</text>
<line x1="13.3" y1="247.5" x2="13.3" y2="248.7" stroke="#505050" stroke-width="0.45"/>
<line x1="13.3" y1="357.5" x2="13.3" y2="356.3" stroke="#505050" stroke-width="0.45"/>
<line x1="19.45" y1="247.5" x2="19.45" y2="248.9" stroke="#505050" stroke-width="0.45"/>
<line x1="19.45" y1="357.5" x2="19.45" y2="356.1" stroke="#505050" stroke-width="0.45"/>
<line x1="25.61" y1="247.5" x2="25.61" y2="248.7" stroke="#505050" stroke-width="0.45"/>
<line x1="25.61" y1="357.5" x2="25.61" y2="356.3" stroke="#505050" stroke-width="0.45"/>
<line x1="31.76" y1="247.5" x2="31.76" y2="248.9" stroke="#505050" stroke-width="0.45"/>
<line x1="31.76" y1="357.5" x2="31.76" y2="356.1" stroke="#505050" stroke-width="0.45"/>
<line x1="37.92" y1="247.5" x2="37.92" y2="248.7" stroke="#505050" stroke-width="0.45"/>
<line x1="37.92" y1="357.5" x2="37.92" y2="356.3" stroke="#505050" stroke-width="0.45"/>
<line x1="44.07" y1="247.5" x2="44.07" y2="248.9" stroke="#505050" stroke-width="0.45"/>
<line x1="44.07" y1="357.5" x2="44.07" y2="356.1" stroke="#505050" stroke-width="0.45"/>
<line x1="50.22" y1="247.5" x2="50.22" y2="248.7" stroke="#505050" stroke-width="0.45"/>
<line x1="50.22" y1="357.5" x2="50.22" y2="356.3" stroke="#505050" stroke-width="0.45"/>
<line x1="56.38" y1="247.5" x2="56.38" y2="248.9" stroke="#505050" stroke-width="0.45"/>
<line x1="56.38" y1="357.5" x2="56.38" y2="356.1" stroke="#505050" stroke-width="0.45"/>
<line x1="62.53" y1="247.5" x2="62.53" y2="248.7" stroke="#505050" stroke-width="0.45"/>
<line x1="62.53" y1="357.5" x2="62.53" y2="356.3" stroke="#505050" stroke-width="0.45"/>
<line x1="68.69" y1="247.5" x2="68.69" y2="248.9" stroke="#505050" stroke-width="0.45"/>
<line x1="68.69" y1="357.5" x2="68.69" y2="356.1" stroke="#505050" stroke-width="0.45"/>
<line x1="74.84" y1="247.5" x2="74.84" y2="248.7" stroke="#505050" stroke-width="0.45"/>
<line x1="74.84" y1="357.5" x2="74.84" y2="356.3" stroke="#505050" stroke-width="0.45"/>
<line x1="81" y1="247.5" x2="81" y2="248.9" stroke="#505050" stroke-width="0.45"/>
<line x1="81" y1="357.5" x2="81" y2="356.1" stroke="#505050" stroke-width="0.45"/>
<line x1="87.15" y1="247.5" x2="87.15" y2="248.7" stroke="#505050" stroke-width="0.45"/>
<line x1="87.15" y1="357.5" x2="87.15" y2="356.3" stroke="#505050" stroke-width="0.45"/>
<line x1="93.3" y1="247.5" x2="93.3" y2="248.9" stroke="#505050" stroke-width="0.45"/>
<line x1="93.3" y1="357.5" x2="93.3" y2="356.1" stroke="#505050" stroke-width="0.45"/>
<line x1="99.46" y1="247.5" x2="99.46" y2="248.7" stroke="#505050" stroke-width="0.45"/>
<line x1="99.46" y1="357.5" x2="99.46" y2="356.3" stroke="#505050" stroke-width="0.45"/>
<line x1="105.61" y1="247.5" x2="105.61" y2="248.9" stroke="#505050" stroke-width="0.45"/>
<line x1="105.61" y1="357.5" x2="105.61" y2="356.1" stroke="#505050" stroke-width="0.45"/>
<line x1="111.77" y1="247.5" x2="111.77" y2="248.7" stroke="#505050" stroke-width="0.45"/>
<line x1="111.77" y1="357.5" x2="111.77" y2="356.3" stroke="#505050" stroke-width="0.45"/>
<line x1="117.92" y1="247.5" x2="117.92" y2="248.9" stroke="#505050" stroke-width="0.45"/>
<line x1="117.92" y1="357.5" x2="117.92" y2="356.1" stroke="#505050" stroke-width="0.45"/>
<line x1="124.07" y1="247.5" x2="124.07" y2="248.7" stroke="#505050" stroke-width="0.45"/>
<line x1="124.07" y1="357.5" x2="124.07" y2="356.3" stroke="#505050" stroke-width="0.45"/>
<line x1="130.23" y1="247.5" x2="130.23" y2="248.9" stroke="#505050" stroke-width="0.45"/>
<line x1="130.23" y1="357.5" x2="130.23" y2="356.1" stroke="#505050" stroke-width="0.45"/>
<line x1="136.38" y1="247.5" x2="136.38" y2="248.7" stroke="#505050" stroke-width="0.45"/>
<line x1="136.38" y1="357.5" x2="136.38" y2="356.3" stroke="#505050" stroke-width="0.45"/>
<line x1="142.54" y1="247.5" x2="142.54" y2="248.9" stroke="#505050" stroke-width="0.45"/>
<line x1="142.54" y1="357.5" x2="142.54" y2="356.1" stroke="#505050" stroke-width="0.45"/>
<line x1="148.69" y1="247.5" x2="148.69" y2="248.7" stroke="#505050" stroke-width="0.45"/>
<line x1="148.69" y1="357.5" x2="148.69" y2="356.3" stroke="#505050" stroke-width="0.45"/>
<line x1="154.85" y1="247.5" x2="154.85" y2="248.9" stroke="#505050" stroke-width="0.45"/>
<line x1="154.85" y1="357.5" x2="154.85" y2="356.1" stroke="#505050" stroke-width="0.45"/>
<line x1="161" y1="247.5" x2="161" y2="248.7" stroke="#505050" stroke-width="0.45"/>
<line x1="161" y1="357.5" x2="161" y2="356.3" stroke="#505050" stroke-width="0.45"/>
<text x="19.45" y="362.5" class="xl">Jan</text>
<text x="31.76" y="362.5" class="xl">Feb</text>
<text x="44.07" y="362.5" class="xl">Mar</text>
<text x="56.38" y="362.5" class="xl">Apr</text>
<text x="68.69" y="362.5" class="xl">May</text>
<text x="81" y="362.5" class="xl">Jun</text>
<text x="93.3" y="362.5" class="xl">Jul</text>
<text x="105.61" y="362.5" class="xl">Aug</text>
<text x="117.92" y="362.5" class="xl">Sep</text>
<text x="130.23" y="362.5" class="xl">Oct</text>
<text x="142.54" y="362.5" class="xl">Nov</text>
<text x="154.85" y="362.5" class="xl">Dec</text>
<text transform="translate(5.45,302.5) rotate(-90)" class="al">Energy (MWh)</text>
<text x="158.9" y="253.6" class="tt">BTS-07 Sojour</text>
<rect x="15.5" y="248.8" width="9" height="4.1" fill="#888600" stroke="#55502a" stroke-width="0.3"/>
<text x="25.9" y="252.1" class="lg">Solar</text>
<rect x="15.5" y="253.55" width="9" height="4.1" fill="#b0040e" stroke="#55502a" stroke-width="0.3"/>
<text x="25.9" y="256.85" class="lg">Diesel Generator</text>
<rect x="207.75" y="281.75" width="9.55" height="74.15" fill="#fdcb8d"/>
<rect x="207.75" y="279.73" width="9.55" height="2.02" fill="#888600"/>
<rect x="207.75" y="277.56" width="9.55" height="2.17" fill="#0d0bb8"/>
<line x1="207.75" y1="281.75" x2="217.3" y2="281.75" stroke="#000" stroke-opacity="0.45" stroke-width="0.4"/>
<line x1="207.75" y1="279.73" x2="217.3" y2="279.73" stroke="#000" stroke-opacity="0.45" stroke-width="0.4"/>
<rect x="207.75" y="277.56" width="9.55" height="78.34" fill="none" stroke="#000" stroke-opacity="0.55" stroke-width="0.45"/>
<rect x="220" y="284.21" width="9.55" height="71.69" fill="#fdcb8d"/>
<rect x="220" y="281.75" width="9.55" height="2.46" fill="#888600"/>
<rect x="220" y="269.04" width="9.55" height="12.72" fill="#0d0bb8"/>
<line x1="220" y1="284.21" x2="229.55" y2="284.21" stroke="#000" stroke-opacity="0.45" stroke-width="0.4"/>
<line x1="220" y1="281.75" x2="229.55" y2="281.75" stroke="#000" stroke-opacity="0.45" stroke-width="0.4"/>
<rect x="220" y="269.04" width="9.55" height="86.86" fill="none" stroke="#000" stroke-opacity="0.55" stroke-width="0.45"/>
<rect x="232.25" y="282.04" width="9.55" height="73.86" fill="#fdcb8d"/>
<rect x="232.25" y="279.44" width="9.55" height="2.6" fill="#888600"/>
<rect x="232.25" y="276.12" width="9.55" height="3.32" fill="#0d0bb8"/>
<line x1="232.25" y1="282.04" x2="241.8" y2="282.04" stroke="#000" stroke-opacity="0.45" stroke-width="0.4"/>
<line x1="232.25" y1="279.44" x2="241.8" y2="279.44" stroke="#000" stroke-opacity="0.45" stroke-width="0.4"/>
<rect x="232.25" y="276.12" width="9.55" height="79.78" fill="none" stroke="#000" stroke-opacity="0.55" stroke-width="0.45"/>
<rect x="244.5" y="283.78" width="9.55" height="72.12" fill="#fdcb8d"/>
<rect x="244.5" y="279.73" width="9.55" height="4.05" fill="#888600"/>
<rect x="244.5" y="278.14" width="9.55" height="1.59" fill="#0d0bb8"/>
<line x1="244.5" y1="283.78" x2="254.05" y2="283.78" stroke="#000" stroke-opacity="0.45" stroke-width="0.4"/>
<line x1="244.5" y1="279.73" x2="254.05" y2="279.73" stroke="#000" stroke-opacity="0.45" stroke-width="0.4"/>
<rect x="244.5" y="278.14" width="9.55" height="77.76" fill="none" stroke="#000" stroke-opacity="0.55" stroke-width="0.45"/>
<rect x="256.75" y="282.48" width="9.55" height="73.42" fill="#fdcb8d"/>
<rect x="256.75" y="279.73" width="9.55" height="2.75" fill="#888600"/>
<rect x="256.75" y="276.12" width="9.55" height="3.61" fill="#0d0bb8"/>
<line x1="256.75" y1="282.48" x2="266.3" y2="282.48" stroke="#000" stroke-opacity="0.45" stroke-width="0.4"/>
<line x1="256.75" y1="279.73" x2="266.3" y2="279.73" stroke="#000" stroke-opacity="0.45" stroke-width="0.4"/>
<rect x="256.75" y="276.12" width="9.55" height="79.78" fill="none" stroke="#000" stroke-opacity="0.55" stroke-width="0.45"/>
<rect x="269" y="283.34" width="9.55" height="72.56" fill="#fdcb8d"/>
<rect x="269" y="280.16" width="9.55" height="3.18" fill="#888600"/>
<rect x="269" y="277.85" width="9.55" height="2.31" fill="#0d0bb8"/>
<line x1="269" y1="283.34" x2="278.55" y2="283.34" stroke="#000" stroke-opacity="0.45" stroke-width="0.4"/>
<line x1="269" y1="280.16" x2="278.55" y2="280.16" stroke="#000" stroke-opacity="0.45" stroke-width="0.4"/>
<rect x="269" y="277.85" width="9.55" height="78.05" fill="none" stroke="#000" stroke-opacity="0.55" stroke-width="0.45"/>
<rect x="281.25" y="281.03" width="9.55" height="74.87" fill="#fdcb8d"/>
<rect x="281.25" y="277.56" width="9.55" height="3.47" fill="#888600"/>
<rect x="281.25" y="275.54" width="9.55" height="2.02" fill="#0d0bb8"/>
<line x1="281.25" y1="281.03" x2="290.8" y2="281.03" stroke="#000" stroke-opacity="0.45" stroke-width="0.4"/>
<line x1="281.25" y1="277.56" x2="290.8" y2="277.56" stroke="#000" stroke-opacity="0.45" stroke-width="0.4"/>
<rect x="281.25" y="275.54" width="9.55" height="80.36" fill="none" stroke="#000" stroke-opacity="0.55" stroke-width="0.45"/>
<rect x="293.5" y="281.03" width="9.55" height="74.87" fill="#fdcb8d"/>
<rect x="293.5" y="277.56" width="9.55" height="3.47" fill="#888600"/>
<rect x="293.5" y="275.54" width="9.55" height="2.02" fill="#0d0bb8"/>
<line x1="293.5" y1="281.03" x2="303.05" y2="281.03" stroke="#000" stroke-opacity="0.45" stroke-width="0.4"/>
<line x1="293.5" y1="277.56" x2="303.05" y2="277.56" stroke="#000" stroke-opacity="0.45" stroke-width="0.4"/>
<rect x="293.5" y="275.54" width="9.55" height="80.36" fill="none" stroke="#000" stroke-opacity="0.55" stroke-width="0.45"/>
<rect x="305.75" y="283.34" width="9.55" height="72.56" fill="#fdcb8d"/>
<rect x="305.75" y="280.31" width="9.55" height="3.04" fill="#888600"/>
<rect x="305.75" y="278.29" width="9.55" height="2.02" fill="#0d0bb8"/>
<line x1="305.75" y1="283.34" x2="315.3" y2="283.34" stroke="#000" stroke-opacity="0.45" stroke-width="0.4"/>
<line x1="305.75" y1="280.31" x2="315.3" y2="280.31" stroke="#000" stroke-opacity="0.45" stroke-width="0.4"/>
<rect x="305.75" y="278.29" width="9.55" height="77.61" fill="none" stroke="#000" stroke-opacity="0.55" stroke-width="0.45"/>
<rect x="318" y="280.74" width="9.55" height="75.16" fill="#fdcb8d"/>
<rect x="318" y="278.14" width="9.55" height="2.6" fill="#888600"/>
<rect x="318" y="275.68" width="9.55" height="2.46" fill="#0d0bb8"/>
<line x1="318" y1="280.74" x2="327.55" y2="280.74" stroke="#000" stroke-opacity="0.45" stroke-width="0.4"/>
<line x1="318" y1="278.14" x2="327.55" y2="278.14" stroke="#000" stroke-opacity="0.45" stroke-width="0.4"/>
<rect x="318" y="275.68" width="9.55" height="80.22" fill="none" stroke="#000" stroke-opacity="0.55" stroke-width="0.45"/>
<rect x="330.25" y="284.93" width="9.55" height="70.97" fill="#fdcb8d"/>
<rect x="330.25" y="282.19" width="9.55" height="2.75" fill="#888600"/>
<rect x="330.25" y="280.45" width="9.55" height="1.73" fill="#0d0bb8"/>
<line x1="330.25" y1="284.93" x2="339.8" y2="284.93" stroke="#000" stroke-opacity="0.45" stroke-width="0.4"/>
<line x1="330.25" y1="282.19" x2="339.8" y2="282.19" stroke="#000" stroke-opacity="0.45" stroke-width="0.4"/>
<rect x="330.25" y="280.45" width="9.55" height="75.45" fill="none" stroke="#000" stroke-opacity="0.55" stroke-width="0.45"/>
<rect x="342.5" y="281.9" width="9.55" height="74" fill="#fdcb8d"/>
<rect x="342.5" y="280.02" width="9.55" height="1.88" fill="#888600"/>
<rect x="342.5" y="278.14" width="9.55" height="1.88" fill="#0d0bb8"/>
<line x1="342.5" y1="281.9" x2="352.05" y2="281.9" stroke="#000" stroke-opacity="0.45" stroke-width="0.4"/>
<line x1="342.5" y1="280.02" x2="352.05" y2="280.02" stroke="#000" stroke-opacity="0.45" stroke-width="0.4"/>
<rect x="342.5" y="278.14" width="9.55" height="77.76" fill="none" stroke="#000" stroke-opacity="0.55" stroke-width="0.45"/>
<rect x="206.4" y="247.5" width="147" height="108.4" fill="none" stroke="#505050" stroke-width="0.6"/>
<line x1="206.4" y1="355.9" x2="208" y2="355.9" stroke="#505050" stroke-width="0.45"/>
<line x1="353.4" y1="355.9" x2="351.8" y2="355.9" stroke="#505050" stroke-width="0.45"/>
<text x="204.5" y="357" class="yl">0</text>
<line x1="206.4" y1="348.67" x2="207.3" y2="348.67" stroke="#505050" stroke-width="0.45"/>
<line x1="353.4" y1="348.67" x2="352.5" y2="348.67" stroke="#505050" stroke-width="0.45"/>
<line x1="206.4" y1="341.45" x2="208" y2="341.45" stroke="#505050" stroke-width="0.45"/>
<line x1="353.4" y1="341.45" x2="351.8" y2="341.45" stroke="#505050" stroke-width="0.45"/>
<text x="204.5" y="342.55" class="yl">1</text>
<line x1="206.4" y1="334.22" x2="207.3" y2="334.22" stroke="#505050" stroke-width="0.45"/>
<line x1="353.4" y1="334.22" x2="352.5" y2="334.22" stroke="#505050" stroke-width="0.45"/>
<line x1="206.4" y1="326.99" x2="208" y2="326.99" stroke="#505050" stroke-width="0.45"/>
<line x1="353.4" y1="326.99" x2="351.8" y2="326.99" stroke="#505050" stroke-width="0.45"/>
<text x="204.5" y="328.09" class="yl">2</text>
<line x1="206.4" y1="319.77" x2="207.3" y2="319.77" stroke="#505050" stroke-width="0.45"/>
<line x1="353.4" y1="319.77" x2="352.5" y2="319.77" stroke="#505050" stroke-width="0.45"/>
<line x1="206.4" y1="312.54" x2="208" y2="312.54" stroke="#505050" stroke-width="0.45"/>
<line x1="353.4" y1="312.54" x2="351.8" y2="312.54" stroke="#505050" stroke-width="0.45"/>
<text x="204.5" y="313.64" class="yl">3</text>
<line x1="206.4" y1="305.31" x2="207.3" y2="305.31" stroke="#505050" stroke-width="0.45"/>
<line x1="353.4" y1="305.31" x2="352.5" y2="305.31" stroke="#505050" stroke-width="0.45"/>
<line x1="206.4" y1="298.09" x2="208" y2="298.09" stroke="#505050" stroke-width="0.45"/>
<line x1="353.4" y1="298.09" x2="351.8" y2="298.09" stroke="#505050" stroke-width="0.45"/>
<text x="204.5" y="299.19" class="yl">4</text>
<line x1="206.4" y1="290.86" x2="207.3" y2="290.86" stroke="#505050" stroke-width="0.45"/>
<line x1="353.4" y1="290.86" x2="352.5" y2="290.86" stroke="#505050" stroke-width="0.45"/>
<line x1="206.4" y1="283.63" x2="208" y2="283.63" stroke="#505050" stroke-width="0.45"/>
<line x1="353.4" y1="283.63" x2="351.8" y2="283.63" stroke="#505050" stroke-width="0.45"/>
<text x="204.5" y="284.73" class="yl">5</text>
<line x1="206.4" y1="276.41" x2="207.3" y2="276.41" stroke="#505050" stroke-width="0.45"/>
<line x1="353.4" y1="276.41" x2="352.5" y2="276.41" stroke="#505050" stroke-width="0.45"/>
<line x1="206.4" y1="269.18" x2="208" y2="269.18" stroke="#505050" stroke-width="0.45"/>
<line x1="353.4" y1="269.18" x2="351.8" y2="269.18" stroke="#505050" stroke-width="0.45"/>
<text x="204.5" y="270.28" class="yl">6</text>
<line x1="206.4" y1="261.95" x2="207.3" y2="261.95" stroke="#505050" stroke-width="0.45"/>
<line x1="353.4" y1="261.95" x2="352.5" y2="261.95" stroke="#505050" stroke-width="0.45"/>
<line x1="206.4" y1="254.73" x2="208" y2="254.73" stroke="#505050" stroke-width="0.45"/>
<line x1="353.4" y1="254.73" x2="351.8" y2="254.73" stroke="#505050" stroke-width="0.45"/>
<text x="204.5" y="255.83" class="yl">7</text>
<line x1="206.4" y1="247.5" x2="207.3" y2="247.5" stroke="#505050" stroke-width="0.45"/>
<line x1="353.4" y1="247.5" x2="352.5" y2="247.5" stroke="#505050" stroke-width="0.45"/>
<line x1="206.4" y1="247.5" x2="206.4" y2="248.7" stroke="#505050" stroke-width="0.45"/>
<line x1="206.4" y1="355.9" x2="206.4" y2="354.7" stroke="#505050" stroke-width="0.45"/>
<line x1="212.53" y1="247.5" x2="212.53" y2="248.9" stroke="#505050" stroke-width="0.45"/>
<line x1="212.53" y1="355.9" x2="212.53" y2="354.5" stroke="#505050" stroke-width="0.45"/>
<line x1="218.65" y1="247.5" x2="218.65" y2="248.7" stroke="#505050" stroke-width="0.45"/>
<line x1="218.65" y1="355.9" x2="218.65" y2="354.7" stroke="#505050" stroke-width="0.45"/>
<line x1="224.78" y1="247.5" x2="224.78" y2="248.9" stroke="#505050" stroke-width="0.45"/>
<line x1="224.78" y1="355.9" x2="224.78" y2="354.5" stroke="#505050" stroke-width="0.45"/>
<line x1="230.9" y1="247.5" x2="230.9" y2="248.7" stroke="#505050" stroke-width="0.45"/>
<line x1="230.9" y1="355.9" x2="230.9" y2="354.7" stroke="#505050" stroke-width="0.45"/>
<line x1="237.03" y1="247.5" x2="237.03" y2="248.9" stroke="#505050" stroke-width="0.45"/>
<line x1="237.03" y1="355.9" x2="237.03" y2="354.5" stroke="#505050" stroke-width="0.45"/>
<line x1="243.15" y1="247.5" x2="243.15" y2="248.7" stroke="#505050" stroke-width="0.45"/>
<line x1="243.15" y1="355.9" x2="243.15" y2="354.7" stroke="#505050" stroke-width="0.45"/>
<line x1="249.28" y1="247.5" x2="249.28" y2="248.9" stroke="#505050" stroke-width="0.45"/>
<line x1="249.28" y1="355.9" x2="249.28" y2="354.5" stroke="#505050" stroke-width="0.45"/>
<line x1="255.4" y1="247.5" x2="255.4" y2="248.7" stroke="#505050" stroke-width="0.45"/>
<line x1="255.4" y1="355.9" x2="255.4" y2="354.7" stroke="#505050" stroke-width="0.45"/>
<line x1="261.52" y1="247.5" x2="261.52" y2="248.9" stroke="#505050" stroke-width="0.45"/>
<line x1="261.52" y1="355.9" x2="261.52" y2="354.5" stroke="#505050" stroke-width="0.45"/>
<line x1="267.65" y1="247.5" x2="267.65" y2="248.7" stroke="#505050" stroke-width="0.45"/>
<line x1="267.65" y1="355.9" x2="267.65" y2="354.7" stroke="#505050" stroke-width="0.45"/>
<line x1="273.77" y1="247.5" x2="273.77" y2="248.9" stroke="#505050" stroke-width="0.45"/>
<line x1="273.77" y1="355.9" x2="273.77" y2="354.5" stroke="#505050" stroke-width="0.45"/>
<line x1="279.9" y1="247.5" x2="279.9" y2="248.7" stroke="#505050" stroke-width="0.45"/>
<line x1="279.9" y1="355.9" x2="279.9" y2="354.7" stroke="#505050" stroke-width="0.45"/>
<line x1="286.02" y1="247.5" x2="286.02" y2="248.9" stroke="#505050" stroke-width="0.45"/>
<line x1="286.02" y1="355.9" x2="286.02" y2="354.5" stroke="#505050" stroke-width="0.45"/>
<line x1="292.15" y1="247.5" x2="292.15" y2="248.7" stroke="#505050" stroke-width="0.45"/>
<line x1="292.15" y1="355.9" x2="292.15" y2="354.7" stroke="#505050" stroke-width="0.45"/>
<line x1="298.27" y1="247.5" x2="298.27" y2="248.9" stroke="#505050" stroke-width="0.45"/>
<line x1="298.27" y1="355.9" x2="298.27" y2="354.5" stroke="#505050" stroke-width="0.45"/>
<line x1="304.4" y1="247.5" x2="304.4" y2="248.7" stroke="#505050" stroke-width="0.45"/>
<line x1="304.4" y1="355.9" x2="304.4" y2="354.7" stroke="#505050" stroke-width="0.45"/>
<line x1="310.52" y1="247.5" x2="310.52" y2="248.9" stroke="#505050" stroke-width="0.45"/>
<line x1="310.52" y1="355.9" x2="310.52" y2="354.5" stroke="#505050" stroke-width="0.45"/>
<line x1="316.65" y1="247.5" x2="316.65" y2="248.7" stroke="#505050" stroke-width="0.45"/>
<line x1="316.65" y1="355.9" x2="316.65" y2="354.7" stroke="#505050" stroke-width="0.45"/>
<line x1="322.77" y1="247.5" x2="322.77" y2="248.9" stroke="#505050" stroke-width="0.45"/>
<line x1="322.77" y1="355.9" x2="322.77" y2="354.5" stroke="#505050" stroke-width="0.45"/>
<line x1="328.9" y1="247.5" x2="328.9" y2="248.7" stroke="#505050" stroke-width="0.45"/>
<line x1="328.9" y1="355.9" x2="328.9" y2="354.7" stroke="#505050" stroke-width="0.45"/>
<line x1="335.02" y1="247.5" x2="335.02" y2="248.9" stroke="#505050" stroke-width="0.45"/>
<line x1="335.02" y1="355.9" x2="335.02" y2="354.5" stroke="#505050" stroke-width="0.45"/>
<line x1="341.15" y1="247.5" x2="341.15" y2="248.7" stroke="#505050" stroke-width="0.45"/>
<line x1="341.15" y1="355.9" x2="341.15" y2="354.7" stroke="#505050" stroke-width="0.45"/>
<line x1="347.27" y1="247.5" x2="347.27" y2="248.9" stroke="#505050" stroke-width="0.45"/>
<line x1="347.27" y1="355.9" x2="347.27" y2="354.5" stroke="#505050" stroke-width="0.45"/>
<line x1="353.4" y1="247.5" x2="353.4" y2="248.7" stroke="#505050" stroke-width="0.45"/>
<line x1="353.4" y1="355.9" x2="353.4" y2="354.7" stroke="#505050" stroke-width="0.45"/>
<text x="212.53" y="360.9" class="xl">Jan</text>
<text x="224.78" y="360.9" class="xl">Feb</text>
<text x="237.03" y="360.9" class="xl">Mar</text>
<text x="249.28" y="360.9" class="xl">Apr</text>
<text x="261.52" y="360.9" class="xl">May</text>
<text x="273.77" y="360.9" class="xl">Jun</text>
<text x="286.02" y="360.9" class="xl">Jul</text>
<text x="298.27" y="360.9" class="xl">Aug</text>
<text x="310.52" y="360.9" class="xl">Sep</text>
<text x="322.77" y="360.9" class="xl">Oct</text>
<text x="335.02" y="360.9" class="xl">Nov</text>
<text x="347.27" y="360.9" class="xl">Dec</text>
<text transform="translate(201.05,301.7) rotate(-90)" class="al">Energy (MWh)</text>
<text x="349.9" y="253.6" class="tt">BTS-08 Dir</text>
<rect x="208.6" y="250.4" width="9" height="4.1" fill="#0d0bb8" stroke="#55502a" stroke-width="0.3"/>
<text x="219" y="253.7" class="lg">Wind</text>
<rect x="208.6" y="255.15" width="9" height="4.1" fill="#888600" stroke="#55502a" stroke-width="0.3"/>
<text x="219" y="258.45" class="lg">Solar</text>
<rect x="208.6" y="259.9" width="9" height="4.1" fill="#fdcb8d" stroke="#55502a" stroke-width="0.3"/>
<text x="219" y="263.2" class="lg">Hydro</text>
<rect x="399.93" y="274.26" width="10.69" height="81.44" fill="#fdcb8d"/>
<rect x="399.93" y="271.44" width="10.69" height="2.83" fill="#888600"/>
<rect x="399.93" y="269.44" width="10.69" height="1.99" fill="#0d0bb8"/>
<line x1="399.93" y1="274.26" x2="410.62" y2="274.26" stroke="#000" stroke-opacity="0.45" stroke-width="0.4"/>
<line x1="399.93" y1="271.44" x2="410.62" y2="271.44" stroke="#000" stroke-opacity="0.45" stroke-width="0.4"/>
<rect x="399.93" y="269.44" width="10.69" height="86.26" fill="none" stroke="#000" stroke-opacity="0.55" stroke-width="0.45"/>
<rect x="413.28" y="281.08" width="9.69" height="74.62" fill="#fdcb8d"/>
<rect x="413.28" y="278.75" width="9.69" height="2.33" fill="#888600"/>
<rect x="413.28" y="276.09" width="9.69" height="2.66" fill="#0d0bb8"/>
<line x1="413.28" y1="281.08" x2="422.97" y2="281.08" stroke="#000" stroke-opacity="0.45" stroke-width="0.4"/>
<line x1="413.28" y1="278.75" x2="422.97" y2="278.75" stroke="#000" stroke-opacity="0.45" stroke-width="0.4"/>
<rect x="413.28" y="276.09" width="9.69" height="79.61" fill="none" stroke="#000" stroke-opacity="0.55" stroke-width="0.45"/>
<rect x="425.63" y="272.6" width="9.69" height="83.1" fill="#fdcb8d"/>
<rect x="425.63" y="269.94" width="9.69" height="2.66" fill="#888600"/>
<rect x="425.63" y="266.12" width="9.69" height="3.82" fill="#0d0bb8"/>
<line x1="425.63" y1="272.6" x2="435.32" y2="272.6" stroke="#000" stroke-opacity="0.45" stroke-width="0.4"/>
<line x1="425.63" y1="269.94" x2="435.32" y2="269.94" stroke="#000" stroke-opacity="0.45" stroke-width="0.4"/>
<rect x="425.63" y="266.12" width="9.69" height="89.58" fill="none" stroke="#000" stroke-opacity="0.55" stroke-width="0.45"/>
<rect x="437.98" y="274.26" width="9.69" height="81.44" fill="#fdcb8d"/>
<rect x="437.98" y="271.27" width="9.69" height="2.99" fill="#888600"/>
<rect x="437.98" y="267.95" width="9.69" height="3.32" fill="#0d0bb8"/>
<line x1="437.98" y1="274.26" x2="447.67" y2="274.26" stroke="#000" stroke-opacity="0.45" stroke-width="0.4"/>
<line x1="437.98" y1="271.27" x2="447.67" y2="271.27" stroke="#000" stroke-opacity="0.45" stroke-width="0.4"/>
<rect x="437.98" y="267.95" width="9.69" height="87.75" fill="none" stroke="#000" stroke-opacity="0.55" stroke-width="0.45"/>
<rect x="450.33" y="271.1" width="9.69" height="84.6" fill="#fdcb8d"/>
<rect x="450.33" y="267.61" width="9.69" height="3.49" fill="#888600"/>
<rect x="450.33" y="263.46" width="9.69" height="4.15" fill="#0d0bb8"/>
<line x1="450.33" y1="271.1" x2="460.02" y2="271.1" stroke="#000" stroke-opacity="0.45" stroke-width="0.4"/>
<line x1="450.33" y1="267.61" x2="460.02" y2="267.61" stroke="#000" stroke-opacity="0.45" stroke-width="0.4"/>
<rect x="450.33" y="263.46" width="9.69" height="92.24" fill="none" stroke="#000" stroke-opacity="0.55" stroke-width="0.45"/>
<rect x="462.68" y="274.26" width="9.69" height="81.44" fill="#fdcb8d"/>
<rect x="462.68" y="271.1" width="9.69" height="3.16" fill="#888600"/>
<rect x="462.68" y="267.95" width="9.69" height="3.16" fill="#0d0bb8"/>
<line x1="462.68" y1="274.26" x2="472.37" y2="274.26" stroke="#000" stroke-opacity="0.45" stroke-width="0.4"/>
<line x1="462.68" y1="271.1" x2="472.37" y2="271.1" stroke="#000" stroke-opacity="0.45" stroke-width="0.4"/>
<rect x="462.68" y="267.95" width="9.69" height="87.75" fill="none" stroke="#000" stroke-opacity="0.55" stroke-width="0.45"/>
<rect x="475.03" y="273.6" width="9.69" height="82.1" fill="#fdcb8d"/>
<rect x="475.03" y="270.27" width="9.69" height="3.32" fill="#888600"/>
<rect x="475.03" y="265.12" width="9.69" height="5.15" fill="#0d0bb8"/>
<line x1="475.03" y1="273.6" x2="484.72" y2="273.6" stroke="#000" stroke-opacity="0.45" stroke-width="0.4"/>
<line x1="475.03" y1="270.27" x2="484.72" y2="270.27" stroke="#000" stroke-opacity="0.45" stroke-width="0.4"/>
<rect x="475.03" y="265.12" width="9.69" height="90.58" fill="none" stroke="#000" stroke-opacity="0.55" stroke-width="0.45"/>
<rect x="487.38" y="273.6" width="9.69" height="82.1" fill="#fdcb8d"/>
<rect x="487.38" y="270.61" width="9.69" height="2.99" fill="#888600"/>
<rect x="487.38" y="266.12" width="9.69" height="4.49" fill="#0d0bb8"/>
<line x1="487.38" y1="273.6" x2="497.07" y2="273.6" stroke="#000" stroke-opacity="0.45" stroke-width="0.4"/>
<line x1="487.38" y1="270.61" x2="497.07" y2="270.61" stroke="#000" stroke-opacity="0.45" stroke-width="0.4"/>
<rect x="487.38" y="266.12" width="9.69" height="89.58" fill="none" stroke="#000" stroke-opacity="0.55" stroke-width="0.45"/>
<rect x="499.73" y="273.43" width="9.69" height="82.27" fill="#fdcb8d"/>
<rect x="499.73" y="272.27" width="9.69" height="1.16" fill="#888600"/>
<rect x="499.73" y="271.27" width="9.69" height="1" fill="#0d0bb8"/>
<line x1="499.73" y1="273.43" x2="509.42" y2="273.43" stroke="#000" stroke-opacity="0.45" stroke-width="0.4"/>
<line x1="499.73" y1="272.27" x2="509.42" y2="272.27" stroke="#000" stroke-opacity="0.45" stroke-width="0.4"/>
<rect x="499.73" y="271.27" width="9.69" height="84.43" fill="none" stroke="#000" stroke-opacity="0.55" stroke-width="0.45"/>
<rect x="512.08" y="273.26" width="9.69" height="82.44" fill="#fdcb8d"/>
<rect x="512.08" y="271.94" width="9.69" height="1.33" fill="#888600"/>
<rect x="512.08" y="270.11" width="9.69" height="1.83" fill="#0d0bb8"/>
<line x1="512.08" y1="273.26" x2="521.77" y2="273.26" stroke="#000" stroke-opacity="0.45" stroke-width="0.4"/>
<line x1="512.08" y1="271.94" x2="521.77" y2="271.94" stroke="#000" stroke-opacity="0.45" stroke-width="0.4"/>
<rect x="512.08" y="270.11" width="9.69" height="85.59" fill="none" stroke="#000" stroke-opacity="0.55" stroke-width="0.45"/>
<rect x="524.43" y="273.76" width="9.69" height="81.94" fill="#fdcb8d"/>
<rect x="524.43" y="272.77" width="9.69" height="1" fill="#888600"/>
<rect x="524.43" y="271.94" width="9.69" height="0.83" fill="#0d0bb8"/>
<line x1="524.43" y1="273.76" x2="534.12" y2="273.76" stroke="#000" stroke-opacity="0.45" stroke-width="0.4"/>
<line x1="524.43" y1="272.77" x2="534.12" y2="272.77" stroke="#000" stroke-opacity="0.45" stroke-width="0.4"/>
<rect x="524.43" y="271.94" width="9.69" height="83.76" fill="none" stroke="#000" stroke-opacity="0.55" stroke-width="0.45"/>
<rect x="536.78" y="272.27" width="9.69" height="83.43" fill="#fdcb8d"/>
<rect x="536.78" y="270.94" width="9.69" height="1.33" fill="#888600"/>
<rect x="536.78" y="269.28" width="9.69" height="1.66" fill="#0d0bb8"/>
<line x1="536.78" y1="272.27" x2="546.47" y2="272.27" stroke="#000" stroke-opacity="0.45" stroke-width="0.4"/>
<line x1="536.78" y1="270.94" x2="546.47" y2="270.94" stroke="#000" stroke-opacity="0.45" stroke-width="0.4"/>
<rect x="536.78" y="269.28" width="9.69" height="86.42" fill="none" stroke="#000" stroke-opacity="0.55" stroke-width="0.45"/>
<rect x="399.4" y="247.7" width="148.2" height="107.9" fill="none" stroke="#505050" stroke-width="0.6"/>
<line x1="399.4" y1="355.7" x2="401" y2="355.7" stroke="#505050" stroke-width="0.45"/>
<line x1="547.6" y1="355.7" x2="546" y2="355.7" stroke="#505050" stroke-width="0.45"/>
<text x="397.5" y="356.8" class="yl">0</text>
<line x1="399.4" y1="347.39" x2="400.3" y2="347.39" stroke="#505050" stroke-width="0.45"/>
<line x1="547.6" y1="347.39" x2="546.7" y2="347.39" stroke="#505050" stroke-width="0.45"/>
<line x1="399.4" y1="339.08" x2="401" y2="339.08" stroke="#505050" stroke-width="0.45"/>
<line x1="547.6" y1="339.08" x2="546" y2="339.08" stroke="#505050" stroke-width="0.45"/>
<text x="397.5" y="340.18" class="yl">1</text>
<line x1="399.4" y1="330.77" x2="400.3" y2="330.77" stroke="#505050" stroke-width="0.45"/>
<line x1="547.6" y1="330.77" x2="546.7" y2="330.77" stroke="#505050" stroke-width="0.45"/>
<line x1="399.4" y1="322.46" x2="401" y2="322.46" stroke="#505050" stroke-width="0.45"/>
<line x1="547.6" y1="322.46" x2="546" y2="322.46" stroke="#505050" stroke-width="0.45"/>
<text x="397.5" y="323.56" class="yl">2</text>
<line x1="399.4" y1="314.15" x2="400.3" y2="314.15" stroke="#505050" stroke-width="0.45"/>
<line x1="547.6" y1="314.15" x2="546.7" y2="314.15" stroke="#505050" stroke-width="0.45"/>
<line x1="399.4" y1="305.84" x2="401" y2="305.84" stroke="#505050" stroke-width="0.45"/>
<line x1="547.6" y1="305.84" x2="546" y2="305.84" stroke="#505050" stroke-width="0.45"/>
<text x="397.5" y="306.94" class="yl">3</text>
<line x1="399.4" y1="297.53" x2="400.3" y2="297.53" stroke="#505050" stroke-width="0.45"/>
<line x1="547.6" y1="297.53" x2="546.7" y2="297.53" stroke="#505050" stroke-width="0.45"/>
<line x1="399.4" y1="289.22" x2="401" y2="289.22" stroke="#505050" stroke-width="0.45"/>
<line x1="547.6" y1="289.22" x2="546" y2="289.22" stroke="#505050" stroke-width="0.45"/>
<text x="397.5" y="290.32" class="yl">4</text>
<line x1="399.4" y1="280.91" x2="400.3" y2="280.91" stroke="#505050" stroke-width="0.45"/>
<line x1="547.6" y1="280.91" x2="546.7" y2="280.91" stroke="#505050" stroke-width="0.45"/>
<line x1="399.4" y1="272.6" x2="401" y2="272.6" stroke="#505050" stroke-width="0.45"/>
<line x1="547.6" y1="272.6" x2="546" y2="272.6" stroke="#505050" stroke-width="0.45"/>
<text x="397.5" y="273.7" class="yl">5</text>
<line x1="399.4" y1="264.29" x2="400.3" y2="264.29" stroke="#505050" stroke-width="0.45"/>
<line x1="547.6" y1="264.29" x2="546.7" y2="264.29" stroke="#505050" stroke-width="0.45"/>
<line x1="399.4" y1="255.98" x2="401" y2="255.98" stroke="#505050" stroke-width="0.45"/>
<line x1="547.6" y1="255.98" x2="546" y2="255.98" stroke="#505050" stroke-width="0.45"/>
<text x="397.5" y="257.08" class="yl">6</text>
<line x1="399.4" y1="247.67" x2="400.3" y2="247.67" stroke="#505050" stroke-width="0.45"/>
<line x1="547.6" y1="247.67" x2="546.7" y2="247.67" stroke="#505050" stroke-width="0.45"/>
<line x1="399.4" y1="247.7" x2="399.4" y2="248.9" stroke="#505050" stroke-width="0.45"/>
<line x1="399.4" y1="355.6" x2="399.4" y2="354.4" stroke="#505050" stroke-width="0.45"/>
<line x1="405.57" y1="247.7" x2="405.57" y2="249.1" stroke="#505050" stroke-width="0.45"/>
<line x1="405.57" y1="355.6" x2="405.57" y2="354.2" stroke="#505050" stroke-width="0.45"/>
<line x1="411.75" y1="247.7" x2="411.75" y2="248.9" stroke="#505050" stroke-width="0.45"/>
<line x1="411.75" y1="355.6" x2="411.75" y2="354.4" stroke="#505050" stroke-width="0.45"/>
<line x1="417.92" y1="247.7" x2="417.92" y2="249.1" stroke="#505050" stroke-width="0.45"/>
<line x1="417.92" y1="355.6" x2="417.92" y2="354.2" stroke="#505050" stroke-width="0.45"/>
<line x1="424.1" y1="247.7" x2="424.1" y2="248.9" stroke="#505050" stroke-width="0.45"/>
<line x1="424.1" y1="355.6" x2="424.1" y2="354.4" stroke="#505050" stroke-width="0.45"/>
<line x1="430.27" y1="247.7" x2="430.27" y2="249.1" stroke="#505050" stroke-width="0.45"/>
<line x1="430.27" y1="355.6" x2="430.27" y2="354.2" stroke="#505050" stroke-width="0.45"/>
<line x1="436.45" y1="247.7" x2="436.45" y2="248.9" stroke="#505050" stroke-width="0.45"/>
<line x1="436.45" y1="355.6" x2="436.45" y2="354.4" stroke="#505050" stroke-width="0.45"/>
<line x1="442.62" y1="247.7" x2="442.62" y2="249.1" stroke="#505050" stroke-width="0.45"/>
<line x1="442.62" y1="355.6" x2="442.62" y2="354.2" stroke="#505050" stroke-width="0.45"/>
<line x1="448.8" y1="247.7" x2="448.8" y2="248.9" stroke="#505050" stroke-width="0.45"/>
<line x1="448.8" y1="355.6" x2="448.8" y2="354.4" stroke="#505050" stroke-width="0.45"/>
<line x1="454.98" y1="247.7" x2="454.98" y2="249.1" stroke="#505050" stroke-width="0.45"/>
<line x1="454.98" y1="355.6" x2="454.98" y2="354.2" stroke="#505050" stroke-width="0.45"/>
<line x1="461.15" y1="247.7" x2="461.15" y2="248.9" stroke="#505050" stroke-width="0.45"/>
<line x1="461.15" y1="355.6" x2="461.15" y2="354.4" stroke="#505050" stroke-width="0.45"/>
<line x1="467.32" y1="247.7" x2="467.32" y2="249.1" stroke="#505050" stroke-width="0.45"/>
<line x1="467.32" y1="355.6" x2="467.32" y2="354.2" stroke="#505050" stroke-width="0.45"/>
<line x1="473.5" y1="247.7" x2="473.5" y2="248.9" stroke="#505050" stroke-width="0.45"/>
<line x1="473.5" y1="355.6" x2="473.5" y2="354.4" stroke="#505050" stroke-width="0.45"/>
<line x1="479.68" y1="247.7" x2="479.68" y2="249.1" stroke="#505050" stroke-width="0.45"/>
<line x1="479.68" y1="355.6" x2="479.68" y2="354.2" stroke="#505050" stroke-width="0.45"/>
<line x1="485.85" y1="247.7" x2="485.85" y2="248.9" stroke="#505050" stroke-width="0.45"/>
<line x1="485.85" y1="355.6" x2="485.85" y2="354.4" stroke="#505050" stroke-width="0.45"/>
<line x1="492.02" y1="247.7" x2="492.02" y2="249.1" stroke="#505050" stroke-width="0.45"/>
<line x1="492.02" y1="355.6" x2="492.02" y2="354.2" stroke="#505050" stroke-width="0.45"/>
<line x1="498.2" y1="247.7" x2="498.2" y2="248.9" stroke="#505050" stroke-width="0.45"/>
<line x1="498.2" y1="355.6" x2="498.2" y2="354.4" stroke="#505050" stroke-width="0.45"/>
<line x1="504.38" y1="247.7" x2="504.38" y2="249.1" stroke="#505050" stroke-width="0.45"/>
<line x1="504.38" y1="355.6" x2="504.38" y2="354.2" stroke="#505050" stroke-width="0.45"/>
<line x1="510.55" y1="247.7" x2="510.55" y2="248.9" stroke="#505050" stroke-width="0.45"/>
<line x1="510.55" y1="355.6" x2="510.55" y2="354.4" stroke="#505050" stroke-width="0.45"/>
<line x1="516.73" y1="247.7" x2="516.73" y2="249.1" stroke="#505050" stroke-width="0.45"/>
<line x1="516.73" y1="355.6" x2="516.73" y2="354.2" stroke="#505050" stroke-width="0.45"/>
<line x1="522.9" y1="247.7" x2="522.9" y2="248.9" stroke="#505050" stroke-width="0.45"/>
<line x1="522.9" y1="355.6" x2="522.9" y2="354.4" stroke="#505050" stroke-width="0.45"/>
<line x1="529.08" y1="247.7" x2="529.08" y2="249.1" stroke="#505050" stroke-width="0.45"/>
<line x1="529.08" y1="355.6" x2="529.08" y2="354.2" stroke="#505050" stroke-width="0.45"/>
<line x1="535.25" y1="247.7" x2="535.25" y2="248.9" stroke="#505050" stroke-width="0.45"/>
<line x1="535.25" y1="355.6" x2="535.25" y2="354.4" stroke="#505050" stroke-width="0.45"/>
<line x1="541.42" y1="247.7" x2="541.42" y2="249.1" stroke="#505050" stroke-width="0.45"/>
<line x1="541.42" y1="355.6" x2="541.42" y2="354.2" stroke="#505050" stroke-width="0.45"/>
<line x1="547.6" y1="247.7" x2="547.6" y2="248.9" stroke="#505050" stroke-width="0.45"/>
<line x1="547.6" y1="355.6" x2="547.6" y2="354.4" stroke="#505050" stroke-width="0.45"/>
<text x="405.57" y="360.6" class="xl">Jan</text>
<text x="417.92" y="360.6" class="xl">Feb</text>
<text x="430.27" y="360.6" class="xl">Mar</text>
<text x="442.62" y="360.6" class="xl">Apr</text>
<text x="454.98" y="360.6" class="xl">May</text>
<text x="467.32" y="360.6" class="xl">Jun</text>
<text x="479.68" y="360.6" class="xl">Jul</text>
<text x="492.02" y="360.6" class="xl">Aug</text>
<text x="504.38" y="360.6" class="xl">Sep</text>
<text x="516.73" y="360.6" class="xl">Oct</text>
<text x="529.08" y="360.6" class="xl">Nov</text>
<text x="541.42" y="360.6" class="xl">Dec</text>
<text transform="translate(393.55,301.65) rotate(-90)" class="al">Energy (MWh)</text>
<text x="545.1" y="254.05" class="tt">BTS-09 Mardan</text>
<rect x="401.6" y="250.9" width="9" height="4.1" fill="#0d0bb8" stroke="#55502a" stroke-width="0.3"/>
<text x="412" y="254.2" class="lg">Wind</text>
<rect x="401.6" y="255.65" width="9" height="4.1" fill="#888600" stroke="#55502a" stroke-width="0.3"/>
<text x="412" y="258.95" class="lg">Solar</text>
<rect x="401.6" y="260.4" width="9" height="4.1" fill="#fdcb8d" stroke="#55502a" stroke-width="0.3"/>
<text x="412" y="263.7" class="lg">Hydro</text>
</svg>
</body></html>
